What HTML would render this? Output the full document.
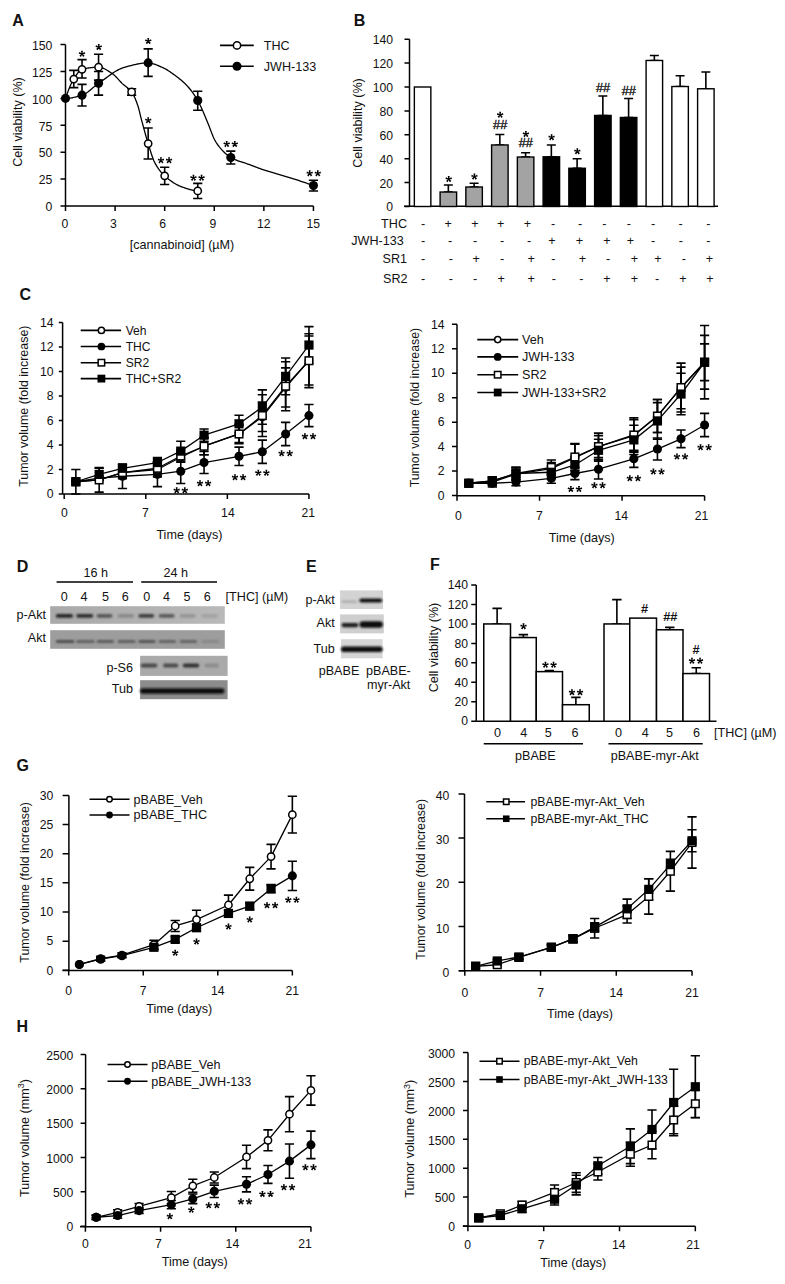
<!DOCTYPE html>
<html><head><meta charset="utf-8"><style>
html,body{margin:0;padding:0;background:#fff;}
svg{display:block;}
text{font-family:"Liberation Sans",sans-serif;fill:#111;}
</style></head><body>
<svg width="785" height="1284" viewBox="0 0 785 1284">
<defs><linearGradient id="g1" x1="0" x2="1" y1="0" y2="0"><stop offset="0" stop-color="#a9a9a9"/><stop offset="1" stop-color="#b9b9b9"/></linearGradient><filter id="bl" x="-20%" y="-150%" width="140%" height="400%"><feGaussianBlur stdDeviation="0.8"/></filter></defs>
<rect width="785" height="1284" fill="#fff"/>
<text x="12.2" y="26.3" font-size="16" text-anchor="start" font-weight="bold">A</text>
<line x1="65.5" y1="206" x2="65.5" y2="44.6" stroke="#000" stroke-width="1.5"/>
<path d="M60.5 206H65.5M60.5 179.1H65.5M60.5 152.2H65.5M60.5 125.3H65.5M60.5 98.4H65.5M60.5 71.5H65.5M60.5 44.6H65.5" stroke="#000" stroke-width="1.5"/>
<text x="52.3" y="211.21" font-size="12.2" text-anchor="end">0</text>
<text x="52.3" y="184.31" font-size="12.2" text-anchor="end">25</text>
<text x="52.3" y="157.41" font-size="12.2" text-anchor="end">50</text>
<text x="52.3" y="130.51" font-size="12.2" text-anchor="end">75</text>
<text x="52.3" y="103.61" font-size="12.2" text-anchor="end">100</text>
<text x="52.3" y="76.71" font-size="12.2" text-anchor="end">125</text>
<text x="52.3" y="49.81" font-size="12.2" text-anchor="end">150</text>
<line x1="65.5" y1="206" x2="313.45" y2="206" stroke="#000" stroke-width="1.5"/>
<path d="M65.5 206V211M115.09 206V211M164.68 206V211M214.27 206V211M263.86 206V211M313.45 206V211" stroke="#000" stroke-width="1.5"/>
<text x="64.8" y="228.01" font-size="12.2" text-anchor="middle">0</text>
<text x="113.5" y="228.01" font-size="12.2" text-anchor="middle">3</text>
<text x="162.6" y="228.01" font-size="12.2" text-anchor="middle">6</text>
<text x="213" y="228.01" font-size="12.2" text-anchor="middle">9</text>
<text x="263.8" y="228.01" font-size="12.2" text-anchor="middle">12</text>
<text x="313.3" y="228.01" font-size="12.2" text-anchor="middle">15</text>
<text x="21.6" y="122" font-size="12.6" text-anchor="middle" transform="rotate(-90 21.6 122)">Cell viability (%)</text>
<text x="182" y="248.75" font-size="12.6" text-anchor="middle">[cannabinoid] (µM)</text>
<polyline points="65.5,98.4 65.94,97.11 66.38,95.85 66.83,94.6 67.27,93.38 67.71,92.18 68.15,91.01 68.6,89.87 69.04,88.75 69.48,87.67 69.92,86.62 70.37,85.6 70.81,84.61 71.25,83.66 71.69,82.75 72.13,81.88 72.58,81.05 73.02,80.26 73.46,79.52 73.9,78.82 74.35,78.12 74.79,77.43 75.23,76.73 75.67,76.05 76.11,75.37 76.56,74.71 77,74.07 77.44,73.45 77.88,72.86 78.33,72.3 78.77,71.77 79.21,71.28 79.65,70.84 80.1,70.44 80.54,70.09 80.98,69.8 81.42,69.57 81.86,69.4 82.31,69.28 82.75,69.17 83.19,69.06 83.63,68.95 84.08,68.85 84.52,68.75 84.96,68.66 85.4,68.57 85.84,68.48 86.29,68.39 86.73,68.31 87.17,68.23 87.61,68.15 88.06,68.07 88.5,68 88.94,67.93 89.38,67.87 89.83,67.8 90.27,67.74 90.71,67.69 91.15,67.63 91.59,67.58 92.04,67.54 92.48,67.49 92.92,67.45 93.36,67.41 93.81,67.38 94.25,67.35 94.69,67.32 95.13,67.29 95.57,67.27 96.02,67.25 96.46,67.23 96.9,67.22 97.34,67.21 97.79,67.2 98.23,67.2 98.67,67.2 99.11,67.21 99.56,67.25 100,67.31 100.44,67.38 100.88,67.47 101.32,67.59 101.77,67.71 102.21,67.86 102.65,68.01 103.09,68.19 103.54,68.37 103.98,68.57 104.42,68.78 104.86,69.01 105.3,69.24 105.75,69.48 106.19,69.73 106.63,69.99 107.07,70.25 107.52,70.53 107.96,70.8 108.4,71.09 108.84,71.37 109.29,71.66 109.73,71.96 110.17,72.25 110.61,72.55 111.05,72.84 111.5,73.13 111.94,73.43 112.38,73.72 112.82,74.02 113.27,74.34 113.71,74.69 114.15,75.06 114.59,75.46 115.03,75.87 115.48,76.3 115.92,76.74 116.36,77.19 116.8,77.66 117.25,78.14 117.69,78.62 118.13,79.1 118.57,79.59 119.02,80.08 119.46,80.57 119.9,81.06 120.34,81.54 120.78,82.01 121.23,82.47 121.67,82.93 122.11,83.37 122.55,83.79 123,84.2 123.44,84.58 123.88,84.95 124.32,85.31 124.76,85.66 125.21,86.01 125.65,86.34 126.09,86.68 126.53,87.02 126.98,87.36 127.42,87.71 127.86,88.07 128.3,88.45 128.75,88.83 129.19,89.24 129.63,89.67 130.07,90.12 130.51,90.6 130.96,91.12 131.4,91.66 131.84,92.24 132.28,92.89 132.73,93.6 133.17,94.38 133.61,95.22 134.05,96.11 134.49,97.06 134.94,98.06 135.38,99.1 135.82,100.19 136.26,101.32 136.71,102.48 137.15,103.68 137.59,104.91 138.03,106.26 138.48,107.78 138.92,109.42 139.36,111.16 139.8,112.96 140.24,114.79 140.69,116.6 141.13,118.36 141.57,120.04 142.01,121.68 142.46,123.33 142.9,124.98 143.34,126.62 143.78,128.27 144.22,129.91 144.67,131.53 145.11,133.15 145.55,134.74 145.99,136.32 146.44,137.87 146.88,139.39 147.32,140.89 147.76,142.35 148.21,143.77 148.65,145.19 149.09,146.62 149.53,148.05 149.97,149.48 150.42,150.9 150.86,152.3 151.3,153.68 151.74,155.02 152.19,156.32 152.63,157.57 153.07,158.76 153.51,159.88 153.95,160.94 154.4,161.91 154.84,162.8 155.28,163.61 155.72,164.39 156.17,165.16 156.61,165.89 157.05,166.61 157.49,167.3 157.94,167.97 158.38,168.62 158.82,169.25 159.26,169.86 159.7,170.45 160.15,171.02 160.59,171.57 161.03,172.1 161.47,172.61 161.92,173.11 162.36,173.59 162.8,174.06 163.24,174.51 163.68,174.94 164.13,175.36 164.57,175.77 165.01,176.17 165.45,176.56 165.9,176.95 166.34,177.33 166.78,177.7 167.22,178.07 167.67,178.44 168.11,178.79 168.55,179.15 168.99,179.5 169.43,179.84 169.88,180.17 170.32,180.5 170.76,180.83 171.2,181.15 171.65,181.46 172.09,181.77 172.53,182.07 172.97,182.36 173.41,182.65 173.86,182.93 174.3,183.2 174.74,183.47 175.18,183.73 175.63,183.99 176.07,184.24 176.51,184.48 176.95,184.72 177.4,184.95 177.84,185.17 178.28,185.38 178.72,185.59 179.16,185.79 179.61,185.99 180.05,186.18 180.49,186.36 180.93,186.53 181.38,186.69 181.82,186.86 182.26,187.02 182.7,187.18 183.14,187.34 183.59,187.5 184.03,187.66 184.47,187.82 184.91,187.97 185.36,188.12 185.8,188.27 186.24,188.42 186.68,188.57 187.13,188.71 187.57,188.85 188.01,188.99 188.45,189.12 188.89,189.25 189.34,189.38 189.78,189.5 190.22,189.62 190.66,189.74 191.11,189.85 191.55,189.96 191.99,190.06 192.43,190.16 192.87,190.26 193.32,190.34 193.76,190.43 194.2,190.51 194.64,190.58 195.09,190.65 195.53,190.71 195.97,190.77 196.41,190.82 196.86,190.87 197.3,190.9 197.74,190.94" fill="none" stroke="#000" stroke-width="1.3" stroke-linejoin="round"/>
<polyline points="65.5,98.4 66.33,98.39 67.16,98.35 67.99,98.3 68.82,98.23 69.65,98.13 70.48,98.02 71.3,97.89 72.13,97.75 72.96,97.59 73.79,97.41 74.62,97.23 75.45,97.03 76.28,96.82 77.11,96.6 77.94,96.38 78.77,96.14 79.6,95.9 80.43,95.66 81.26,95.41 82.09,95.15 82.91,94.86 83.74,94.5 84.57,94.08 85.4,93.61 86.23,93.09 87.06,92.52 87.89,91.92 88.72,91.28 89.55,90.62 90.38,89.94 91.21,89.25 92.04,88.54 92.87,87.83 93.69,87.13 94.52,86.43 95.35,85.75 96.18,85.08 97.01,84.44 97.84,83.83 98.67,83.26 99.5,82.7 100.33,82.12 101.16,81.53 101.99,80.93 102.82,80.33 103.65,79.72 104.48,79.11 105.3,78.49 106.13,77.88 106.96,77.27 107.79,76.65 108.62,76.05 109.45,75.45 110.28,74.85 111.11,74.27 111.94,73.69 112.77,73.13 113.6,72.58 114.43,72.05 115.26,71.54 116.09,71.04 116.91,70.56 117.74,70.11 118.57,69.68 119.4,69.27 120.23,68.89 121.06,68.54 121.89,68.22 122.72,67.93 123.55,67.68 124.38,67.43 125.21,67.18 126.04,66.94 126.87,66.7 127.69,66.46 128.52,66.23 129.35,65.99 130.18,65.77 131.01,65.54 131.84,65.33 132.67,65.12 133.5,64.91 134.33,64.71 135.16,64.52 135.99,64.34 136.82,64.16 137.65,64 138.48,63.84 139.3,63.7 140.13,63.56 140.96,63.44 141.79,63.32 142.62,63.22 143.45,63.13 144.28,63.06 145.11,63 145.94,62.95 146.77,62.91 147.6,62.9 148.43,62.89 149.26,62.94 150.08,63.02 150.91,63.16 151.74,63.33 152.57,63.53 153.4,63.77 154.23,64.04 155.06,64.33 155.89,64.65 156.72,64.98 157.55,65.33 158.38,65.68 159.21,66.05 160.04,66.42 160.87,66.79 161.69,67.16 162.52,67.52 163.35,67.89 164.18,68.29 165.01,68.72 165.84,69.18 166.67,69.66 167.5,70.16 168.33,70.69 169.16,71.23 169.99,71.78 170.82,72.35 171.65,72.93 172.48,73.52 173.3,74.11 174.13,74.71 174.96,75.32 175.79,75.93 176.62,76.54 177.45,77.17 178.28,77.82 179.11,78.47 179.94,79.14 180.77,79.83 181.6,80.54 182.43,81.26 183.26,82.01 184.08,82.78 184.91,83.57 185.74,84.39 186.57,85.24 187.4,86.11 188.23,87.02 189.06,87.96 189.89,88.96 190.72,90 191.55,91.08 192.38,92.21 193.21,93.38 194.04,94.59 194.87,95.85 195.69,97.16 196.52,98.5 197.35,99.89 198.18,101.33 199.01,102.88 199.84,104.52 200.67,106.25 201.5,108.05 202.33,109.92 203.16,111.83 203.99,113.78 204.82,115.75 205.65,117.73 206.47,119.71 207.3,121.67 208.13,123.64 208.96,125.74 209.79,127.93 210.62,130.16 211.45,132.39 212.28,134.54 213.11,136.58 213.94,138.44 214.77,140.07 215.6,141.49 216.43,142.83 217.26,144.08 218.08,145.26 218.91,146.38 219.74,147.43 220.57,148.42 221.4,149.37 222.23,150.27 223.06,151.13 223.89,151.97 224.72,152.79 225.55,153.58 226.38,154.34 227.21,155.05 228.04,155.73 228.87,156.35 229.69,156.92 230.52,157.42 231.35,157.88 232.18,158.31 233.01,158.71 233.84,159.1 234.67,159.46 235.5,159.81 236.33,160.14 237.16,160.46 237.99,160.77 238.82,161.07 239.65,161.35 240.47,161.63 241.3,161.91 242.13,162.17 242.96,162.44 243.79,162.7 244.62,162.97 245.45,163.23 246.28,163.5 247.11,163.78 247.94,164.06 248.77,164.35 249.6,164.65 250.43,164.96 251.26,165.27 252.08,165.59 252.91,165.9 253.74,166.22 254.57,166.54 255.4,166.86 256.23,167.18 257.06,167.49 257.89,167.81 258.72,168.12 259.55,168.43 260.38,168.73 261.21,169.03 262.04,169.33 262.86,169.62 263.69,169.9 264.52,170.17 265.35,170.45 266.18,170.71 267.01,170.97 267.84,171.23 268.67,171.49 269.5,171.74 270.33,171.99 271.16,172.24 271.99,172.48 272.82,172.72 273.65,172.96 274.47,173.2 275.3,173.44 276.13,173.67 276.96,173.91 277.79,174.14 278.62,174.38 279.45,174.61 280.28,174.85 281.11,175.08 281.94,175.32 282.77,175.56 283.6,175.79 284.43,176.03 285.26,176.28 286.08,176.52 286.91,176.77 287.74,177.02 288.57,177.27 289.4,177.53 290.23,177.78 291.06,178.05 291.89,178.31 292.72,178.57 293.55,178.84 294.38,179.11 295.21,179.37 296.04,179.64 296.86,179.91 297.69,180.19 298.52,180.46 299.35,180.73 300.18,181.01 301.01,181.28 301.84,181.56 302.67,181.84 303.5,182.12 304.33,182.4 305.16,182.68 305.99,182.97 306.82,183.25 307.65,183.53 308.47,183.82 309.3,184.11 310.13,184.39 310.96,184.68 311.79,184.97 312.62,185.26 313.45,185.56" fill="none" stroke="#000" stroke-width="1.3" stroke-linejoin="round"/>
<path d="M73.77 70.42V87.64M69.17 70.42H78.36M69.17 87.64H78.36" stroke="#000" stroke-width="1.6" fill="none"/>
<path d="M82.03 59.66V77.96M77.43 59.66H86.63M77.43 77.96H86.63" stroke="#000" stroke-width="1.6" fill="none"/>
<path d="M98.56 54.28V80.11M93.96 54.28H103.16M93.96 80.11H103.16" stroke="#000" stroke-width="1.6" fill="none"/>
<path d="M131.62 88.72V95.17M127.02 88.72H136.22M127.02 95.17H136.22" stroke="#000" stroke-width="1.6" fill="none"/>
<path d="M148.15 127.99V158.98M143.55 127.99H152.75M143.55 158.98H152.75" stroke="#000" stroke-width="1.6" fill="none"/>
<path d="M164.68 167.26V184.48M160.08 167.26H169.28M160.08 184.48H169.28" stroke="#000" stroke-width="1.6" fill="none"/>
<path d="M197.74 183.4V198.47M193.14 183.4H202.34M193.14 198.47H202.34" stroke="#000" stroke-width="1.6" fill="none"/>
<path d="M82.03 84.41V105.93M77.43 84.41H86.63M77.43 105.93H86.63" stroke="#000" stroke-width="1.6" fill="none"/>
<path d="M98.56 71.5V95.17M93.96 71.5H103.16M93.96 95.17H103.16" stroke="#000" stroke-width="1.6" fill="none"/>
<path d="M148.15 48.9V76.34M143.55 48.9H152.75M143.55 76.34H152.75" stroke="#000" stroke-width="1.6" fill="none"/>
<path d="M197.74 91.3V110.24M193.14 91.3H202.34M193.14 110.24H202.34" stroke="#000" stroke-width="1.6" fill="none"/>
<path d="M230.8 151.12V164.04M226.2 151.12H235.4M226.2 164.04H235.4" stroke="#000" stroke-width="1.6" fill="none"/>
<path d="M313.45 180.18V190.94M308.85 180.18H318.05M308.85 190.94H318.05" stroke="#000" stroke-width="1.6" fill="none"/>
<circle cx="65.5" cy="98.4" r="4.55" fill="#000"/>
<circle cx="82.03" cy="95.17" r="4.55" fill="#000"/>
<circle cx="98.56" cy="83.34" r="4.55" fill="#000"/>
<circle cx="148.15" cy="62.89" r="4.55" fill="#000"/>
<circle cx="197.74" cy="100.55" r="4.55" fill="#000"/>
<circle cx="230.8" cy="157.58" r="4.55" fill="#000"/>
<circle cx="313.45" cy="185.56" r="4.55" fill="#000"/>
<circle cx="73.77" cy="79.03" r="3.65" fill="#fff" stroke="#000" stroke-width="1.5"/>
<circle cx="82.03" cy="69.35" r="3.65" fill="#fff" stroke="#000" stroke-width="1.5"/>
<circle cx="98.56" cy="67.2" r="3.65" fill="#fff" stroke="#000" stroke-width="1.5"/>
<circle cx="131.62" cy="91.94" r="3.65" fill="#fff" stroke="#000" stroke-width="1.5"/>
<circle cx="148.15" cy="143.59" r="3.65" fill="#fff" stroke="#000" stroke-width="1.5"/>
<circle cx="164.68" cy="175.87" r="3.65" fill="#fff" stroke="#000" stroke-width="1.5"/>
<circle cx="197.74" cy="190.94" r="3.65" fill="#fff" stroke="#000" stroke-width="1.5"/>
<path d="M82.45 53.85L82.95 50.7L81.05 50.7L81.55 53.85ZM82.14 54.28L85.29 53.78L84.7 51.97L81.86 53.42ZM81.64 54.11L83.08 56.96L84.62 55.84L82.36 53.59ZM81.64 53.59L79.38 55.84L80.92 56.96L82.36 54.11ZM82.14 53.42L79.3 51.97L78.71 53.78L81.86 54.28Z" fill="#000"/>
<path d="M99.2 47.1L99.7 43.95L97.8 43.95L98.3 47.1ZM98.89 47.53L102.04 47.03L101.45 45.22L98.61 46.67ZM98.39 47.36L99.83 50.21L101.37 49.09L99.11 46.84ZM98.39 46.84L96.13 49.09L97.67 50.21L99.11 47.36ZM98.89 46.67L96.05 45.22L95.46 47.03L98.61 47.53Z" fill="#000"/>
<path d="M148.7 41.1L149.2 37.95L147.3 37.95L147.8 41.1ZM148.39 41.53L151.54 41.03L150.95 39.22L148.11 40.67ZM147.89 41.36L149.33 44.21L150.87 43.09L148.61 40.84ZM147.89 40.84L145.63 43.09L147.17 44.21L148.61 41.36ZM148.39 40.67L145.55 39.22L144.96 41.03L148.11 41.53Z" fill="#000"/>
<path d="M148.7 120.35L149.2 117.2L147.3 117.2L147.8 120.35ZM148.39 120.78L151.54 120.28L150.95 118.47L148.11 119.92ZM147.89 120.61L149.33 123.46L150.87 122.34L148.61 120.09ZM147.89 120.09L145.63 122.34L147.17 123.46L148.61 120.61ZM148.39 119.92L145.55 118.47L144.96 120.28L148.11 120.78Z" fill="#000"/>
<path d="M161.4 160.35L161.9 157.2L160 157.2L160.5 160.35ZM161.09 160.78L164.24 160.28L163.65 158.47L160.81 159.92ZM160.59 160.61L162.03 163.46L163.57 162.34L161.31 160.09ZM160.59 160.09L158.33 162.34L159.87 163.46L161.31 160.61ZM161.09 159.92L158.25 158.47L157.66 160.28L160.81 160.78ZM169.5 160.35L170 157.2L168.1 157.2L168.6 160.35ZM169.19 160.78L172.34 160.28L171.75 158.47L168.91 159.92ZM168.69 160.61L170.13 163.46L171.67 162.34L169.41 160.09ZM168.69 160.09L166.43 162.34L167.97 163.46L169.41 160.61ZM169.19 159.92L166.35 158.47L165.76 160.28L168.91 160.78Z" fill="#000"/>
<path d="M193.9 177.85L194.4 174.7L192.5 174.7L193 177.85ZM193.59 178.28L196.74 177.78L196.15 175.97L193.31 177.42ZM193.09 178.11L194.53 180.96L196.07 179.84L193.81 177.59ZM193.09 177.59L190.83 179.84L192.37 180.96L193.81 178.11ZM193.59 177.42L190.75 175.97L190.16 177.78L193.31 178.28ZM202 177.85L202.5 174.7L200.6 174.7L201.1 177.85ZM201.69 178.28L204.84 177.78L204.25 175.97L201.41 177.42ZM201.19 178.11L202.63 180.96L204.17 179.84L201.91 177.59ZM201.19 177.59L198.93 179.84L200.47 180.96L201.91 178.11ZM201.69 177.42L198.85 175.97L198.26 177.78L201.41 178.28Z" fill="#000"/>
<path d="M227.15 144.1L227.65 140.95L225.75 140.95L226.25 144.1ZM226.84 144.53L229.99 144.03L229.4 142.22L226.56 143.67ZM226.34 144.36L227.78 147.21L229.32 146.09L227.06 143.84ZM226.34 143.84L224.08 146.09L225.62 147.21L227.06 144.36ZM226.84 143.67L224 142.22L223.41 144.03L226.56 144.53ZM235.25 144.1L235.75 140.95L233.85 140.95L234.35 144.1ZM234.94 144.53L238.09 144.03L237.5 142.22L234.66 143.67ZM234.44 144.36L235.88 147.21L237.42 146.09L235.16 143.84ZM234.44 143.84L232.18 146.09L233.72 147.21L235.16 144.36ZM234.94 143.67L232.1 142.22L231.51 144.03L234.66 144.53Z" fill="#000"/>
<path d="M310.15 173.35L310.65 170.2L308.75 170.2L309.25 173.35ZM309.84 173.78L312.99 173.28L312.4 171.47L309.56 172.92ZM309.34 173.61L310.78 176.46L312.32 175.34L310.06 173.09ZM309.34 173.09L307.08 175.34L308.62 176.46L310.06 173.61ZM309.84 172.92L307 171.47L306.41 173.28L309.56 173.78ZM318.25 173.35L318.75 170.2L316.85 170.2L317.35 173.35ZM317.94 173.78L321.09 173.28L320.5 171.47L317.66 172.92ZM317.44 173.61L318.88 176.46L320.42 175.34L318.16 173.09ZM317.44 173.09L315.18 175.34L316.72 176.46L318.16 173.61ZM317.94 172.92L315.1 171.47L314.51 173.28L317.66 173.78Z" fill="#000"/>
<line x1="220" y1="45.4" x2="253.75" y2="45.4" stroke="#000" stroke-width="1.6"/>
<circle cx="237" cy="45.4" r="3.65" fill="#fff" stroke="#000" stroke-width="1.5"/>
<text x="263.75" y="49.75" font-size="12.6" text-anchor="start">THC</text>
<line x1="220" y1="66.3" x2="253.75" y2="66.3" stroke="#000" stroke-width="1.6"/>
<circle cx="237" cy="66.3" r="4.55" fill="#000"/>
<text x="263.75" y="70.65" font-size="12.6" text-anchor="start">JWH-133</text>
<text x="353.75" y="26.3" font-size="16" text-anchor="start" font-weight="bold">B</text>
<line x1="409.5" y1="206.5" x2="409.5" y2="39.2" stroke="#000" stroke-width="1.5"/>
<path d="M404.5 206.5H409.5M404.5 182.6H409.5M404.5 158.7H409.5M404.5 134.8H409.5M404.5 110.9H409.5M404.5 87H409.5M404.5 63.1H409.5M404.5 39.2H409.5" stroke="#000" stroke-width="1.5"/>
<text x="393" y="211.41" font-size="12.2" text-anchor="end">0</text>
<text x="393" y="187.51" font-size="12.2" text-anchor="end">20</text>
<text x="393" y="163.61" font-size="12.2" text-anchor="end">40</text>
<text x="393" y="139.71" font-size="12.2" text-anchor="end">60</text>
<text x="393" y="115.81" font-size="12.2" text-anchor="end">80</text>
<text x="393" y="91.91" font-size="12.2" text-anchor="end">100</text>
<text x="393" y="68.01" font-size="12.2" text-anchor="end">120</text>
<text x="393" y="44.11" font-size="12.2" text-anchor="end">140</text>
<line x1="404" y1="206.25" x2="718" y2="206.25" stroke="#000" stroke-width="1.5"/>
<text x="362.3" y="123" font-size="12.6" text-anchor="middle" transform="rotate(-90 362.3 123)">Cell viability (%)</text>
<rect x="414.35" y="87" width="16.5" height="119.5" fill="#fff" stroke="#000" stroke-width="1.4"/>
<path d="M448.35 184.99V192.04M443.85 184.99H452.85M443.85 192.04H452.85" stroke="#000" stroke-width="1.6" fill="none"/>
<rect x="440.1" y="192.04" width="16.5" height="14.46" fill="#a3a3a3" stroke="#000" stroke-width="1.4"/>
<path d="M474.1 183.2V187.02M469.6 183.2H478.6M469.6 187.02H478.6" stroke="#000" stroke-width="1.6" fill="none"/>
<rect x="465.85" y="187.02" width="16.5" height="19.48" fill="#a3a3a3" stroke="#000" stroke-width="1.4"/>
<path d="M499.85 134.44V144.96M495.35 134.44H504.35M495.35 144.96H504.35" stroke="#000" stroke-width="1.6" fill="none"/>
<rect x="491.6" y="144.96" width="16.5" height="61.54" fill="#a3a3a3" stroke="#000" stroke-width="1.4"/>
<path d="M525.6 152.72V157.03M521.1 152.72H530.1M521.1 157.03H530.1" stroke="#000" stroke-width="1.6" fill="none"/>
<rect x="517.35" y="157.03" width="16.5" height="49.47" fill="#a3a3a3" stroke="#000" stroke-width="1.4"/>
<path d="M551.35 144.96V156.79M546.85 144.96H555.85M546.85 156.79H555.85" stroke="#000" stroke-width="1.6" fill="none"/>
<rect x="543.1" y="156.79" width="16.5" height="49.71" fill="#000" stroke="#000" stroke-width="1.4"/>
<path d="M577.1 158.7V168.26M572.6 158.7H581.6M572.6 168.26H581.6" stroke="#000" stroke-width="1.6" fill="none"/>
<rect x="568.85" y="168.26" width="16.5" height="38.24" fill="#000" stroke="#000" stroke-width="1.4"/>
<path d="M602.85 95.96V115.44M598.35 95.96H607.35M598.35 115.44H607.35" stroke="#000" stroke-width="1.6" fill="none"/>
<rect x="594.6" y="115.44" width="16.5" height="91.06" fill="#000" stroke="#000" stroke-width="1.4"/>
<path d="M628.6 98.47V117.47M624.1 98.47H633.1M624.1 117.47H633.1" stroke="#000" stroke-width="1.6" fill="none"/>
<rect x="620.35" y="117.47" width="16.5" height="89.03" fill="#000" stroke="#000" stroke-width="1.4"/>
<path d="M654.35 55.45V60.47M649.85 55.45H658.85M649.85 60.47H658.85" stroke="#000" stroke-width="1.6" fill="none"/>
<rect x="646.1" y="60.47" width="16.5" height="146.03" fill="#fff" stroke="#000" stroke-width="1.4"/>
<path d="M680.1 75.77V86.52M675.6 75.77H684.6M675.6 86.52H684.6" stroke="#000" stroke-width="1.6" fill="none"/>
<rect x="671.85" y="86.52" width="16.5" height="119.98" fill="#fff" stroke="#000" stroke-width="1.4"/>
<path d="M705.85 72.06V88.79M701.35 72.06H710.35M701.35 88.79H710.35" stroke="#000" stroke-width="1.6" fill="none"/>
<rect x="697.6" y="88.79" width="16.5" height="117.71" fill="#fff" stroke="#000" stroke-width="1.4"/>
<path d="M449.17 179.1L449.67 175.95L447.77 175.95L448.27 179.1ZM448.86 179.53L452.01 179.03L451.42 177.22L448.58 178.67ZM448.36 179.36L449.8 182.21L451.34 181.09L449.08 178.84ZM448.36 178.84L446.1 181.09L447.64 182.21L449.08 179.36ZM448.86 178.67L446.02 177.22L445.43 179.03L448.58 179.53Z" fill="#000"/>
<path d="M474.89 176.6L475.39 173.45L473.49 173.45L473.99 176.6ZM474.58 177.03L477.73 176.53L477.14 174.72L474.3 176.17ZM474.08 176.86L475.52 179.71L477.06 178.59L474.8 176.34ZM474.08 176.34L471.82 178.59L473.36 179.71L474.8 176.86ZM474.58 176.17L471.74 174.72L471.15 176.53L474.3 177.03Z" fill="#000"/>
<path d="M500.61 114.85L501.11 111.7L499.21 111.7L499.71 114.85ZM500.3 115.28L503.45 114.78L502.86 112.97L500.02 114.42ZM499.8 115.11L501.24 117.96L502.78 116.84L500.52 114.59ZM499.8 114.59L497.54 116.84L499.08 117.96L500.52 115.11ZM500.3 114.42L497.46 112.97L496.87 114.78L500.02 115.28Z" fill="#000"/>
<text x="500.16" y="128.72" font-size="12.8" text-anchor="middle" font-family="Liberation Serif" stroke="#111" stroke-width="0.35">##</text>
<path d="M526.33 134.1L526.83 130.95L524.93 130.95L525.43 134.1ZM526.02 134.53L529.17 134.03L528.58 132.22L525.74 133.67ZM525.52 134.36L526.96 137.21L528.5 136.09L526.24 133.84ZM525.52 133.84L523.26 136.09L524.8 137.21L526.24 134.36ZM526.02 133.67L523.18 132.22L522.59 134.03L525.74 134.53Z" fill="#000"/>
<text x="525.88" y="147.47" font-size="12.8" text-anchor="middle" font-family="Liberation Serif" stroke="#111" stroke-width="0.35">##</text>
<path d="M552.05 137.35L552.55 134.2L550.65 134.2L551.15 137.35ZM551.74 137.78L554.89 137.28L554.3 135.47L551.46 136.92ZM551.24 137.61L552.68 140.46L554.22 139.34L551.96 137.09ZM551.24 137.09L548.98 139.34L550.52 140.46L551.96 137.61ZM551.74 136.92L548.9 135.47L548.31 137.28L551.46 137.78Z" fill="#000"/>
<path d="M577.77 151.35L578.27 148.2L576.37 148.2L576.87 151.35ZM577.46 151.78L580.61 151.28L580.02 149.47L577.18 150.92ZM576.96 151.61L578.4 154.46L579.94 153.34L577.68 151.09ZM576.96 151.09L574.7 153.34L576.24 154.46L577.68 151.61ZM577.46 150.92L574.62 149.47L574.03 151.28L577.18 151.78Z" fill="#000"/>
<text x="603.04" y="91.72" font-size="12.8" text-anchor="middle" font-family="Liberation Serif" stroke="#111" stroke-width="0.35">##</text>
<text x="628.76" y="94.72" font-size="12.8" text-anchor="middle" font-family="Liberation Serif" stroke="#111" stroke-width="0.35">##</text>
<text x="407" y="228.1" font-size="12.6" text-anchor="end">THC</text>
<text x="423" y="228.1" font-size="12.6" text-anchor="middle">-</text>
<text x="448.25" y="228.1" font-size="12.6" text-anchor="middle">+</text>
<text x="475" y="228.1" font-size="12.6" text-anchor="middle">+</text>
<text x="500.75" y="228.1" font-size="12.6" text-anchor="middle">+</text>
<text x="527.5" y="228.1" font-size="12.6" text-anchor="middle">+</text>
<text x="553" y="228.1" font-size="12.6" text-anchor="middle">-</text>
<text x="580" y="228.1" font-size="12.6" text-anchor="middle">-</text>
<text x="604.25" y="228.1" font-size="12.6" text-anchor="middle">-</text>
<text x="628.75" y="228.1" font-size="12.6" text-anchor="middle">-</text>
<text x="653" y="228.1" font-size="12.6" text-anchor="middle">-</text>
<text x="680.5" y="228.1" font-size="12.6" text-anchor="middle">-</text>
<text x="708.25" y="228.1" font-size="12.6" text-anchor="middle">-</text>
<text x="403.75" y="244.85" font-size="12.6" text-anchor="end">JWH-133</text>
<text x="423" y="244.85" font-size="12.6" text-anchor="middle">-</text>
<text x="450" y="244.85" font-size="12.6" text-anchor="middle">-</text>
<text x="475" y="244.85" font-size="12.6" text-anchor="middle">-</text>
<text x="502" y="244.85" font-size="12.6" text-anchor="middle">-</text>
<text x="529" y="244.85" font-size="12.6" text-anchor="middle">-</text>
<text x="552" y="244.85" font-size="12.6" text-anchor="middle">+</text>
<text x="579.5" y="244.85" font-size="12.6" text-anchor="middle">+</text>
<text x="607" y="244.85" font-size="12.6" text-anchor="middle">+</text>
<text x="630.5" y="244.85" font-size="12.6" text-anchor="middle">+</text>
<text x="653" y="244.85" font-size="12.6" text-anchor="middle">-</text>
<text x="680.75" y="244.85" font-size="12.6" text-anchor="middle">-</text>
<text x="708.25" y="244.85" font-size="12.6" text-anchor="middle">-</text>
<text x="407" y="263.1" font-size="12.6" text-anchor="end">SR1</text>
<text x="423" y="263.1" font-size="12.6" text-anchor="middle">-</text>
<text x="450.75" y="263.1" font-size="12.6" text-anchor="middle">-</text>
<text x="476.25" y="263.1" font-size="12.6" text-anchor="middle">+</text>
<text x="502" y="263.1" font-size="12.6" text-anchor="middle">-</text>
<text x="531.25" y="263.1" font-size="12.6" text-anchor="middle">+</text>
<text x="553.25" y="263.1" font-size="12.6" text-anchor="middle">-</text>
<text x="582.5" y="263.1" font-size="12.6" text-anchor="middle">+</text>
<text x="608" y="263.1" font-size="12.6" text-anchor="middle">-</text>
<text x="634.5" y="263.1" font-size="12.6" text-anchor="middle">+</text>
<text x="658" y="263.1" font-size="12.6" text-anchor="middle">+</text>
<text x="683.75" y="263.1" font-size="12.6" text-anchor="middle">-</text>
<text x="709.5" y="263.1" font-size="12.6" text-anchor="middle">+</text>
<text x="407.5" y="283.1" font-size="12.6" text-anchor="end">SR2</text>
<text x="423" y="283.1" font-size="12.6" text-anchor="middle">-</text>
<text x="450.75" y="283.1" font-size="12.6" text-anchor="middle">-</text>
<text x="475" y="283.1" font-size="12.6" text-anchor="middle">-</text>
<text x="501.25" y="283.1" font-size="12.6" text-anchor="middle">+</text>
<text x="531.25" y="283.1" font-size="12.6" text-anchor="middle">+</text>
<text x="553.75" y="283.1" font-size="12.6" text-anchor="middle">-</text>
<text x="581.25" y="283.1" font-size="12.6" text-anchor="middle">-</text>
<text x="607" y="283.1" font-size="12.6" text-anchor="middle">+</text>
<text x="634.5" y="283.1" font-size="12.6" text-anchor="middle">+</text>
<text x="657" y="283.1" font-size="12.6" text-anchor="middle">-</text>
<text x="683" y="283.1" font-size="12.6" text-anchor="middle">+</text>
<text x="710" y="283.1" font-size="12.6" text-anchor="middle">+</text>
<text x="19.5" y="299.8" font-size="16" text-anchor="start" font-weight="bold">C</text>
<line x1="62.6" y1="494" x2="62.6" y2="322.5" stroke="#000" stroke-width="1.5"/>
<path d="M58.8 494H62.6M58.8 469.5H62.6M58.8 445H62.6M58.8 420.5H62.6M58.8 396H62.6M58.8 371.5H62.6M58.8 347H62.6M58.8 322.5H62.6" stroke="#000" stroke-width="1.5"/>
<text x="53.6" y="498.21" font-size="12.2" text-anchor="end">0</text>
<text x="53.6" y="473.71" font-size="12.2" text-anchor="end">2</text>
<text x="53.6" y="449.21" font-size="12.2" text-anchor="end">4</text>
<text x="53.6" y="424.71" font-size="12.2" text-anchor="end">6</text>
<text x="53.6" y="400.21" font-size="12.2" text-anchor="end">8</text>
<text x="53.6" y="375.71" font-size="12.2" text-anchor="end">10</text>
<text x="53.6" y="351.21" font-size="12.2" text-anchor="end">12</text>
<text x="53.6" y="326.71" font-size="12.2" text-anchor="end">14</text>
<line x1="62.4" y1="494" x2="308.95" y2="494" stroke="#000" stroke-width="1.5"/>
<path d="M64.2 494V499M145.78 494V499M227.37 494V499M308.95 494V499" stroke="#000" stroke-width="1.5"/>
<text x="64.5" y="516.91" font-size="12.2" text-anchor="middle">0</text>
<text x="145.5" y="516.91" font-size="12.2" text-anchor="middle">7</text>
<text x="227.9" y="516.91" font-size="12.2" text-anchor="middle">14</text>
<text x="308.2" y="516.91" font-size="12.2" text-anchor="middle">21</text>
<text x="28" y="406.2" font-size="12.45" text-anchor="middle" transform="rotate(-90 28 406.2)">Tumor volume (fold increase)</text>
<text x="189.4" y="539.05" font-size="12.6" text-anchor="middle">Time (days)</text>
<polyline points="75.86,481.75 99.16,478.07 122.47,476.24 157.44,474.4 180.75,471.21 204.06,462.52 239.02,456.27 262.33,451.74 285.64,433.98 308.95,415.6" fill="none" stroke="#000" stroke-width="1.3" stroke-linejoin="round"/>
<polyline points="75.86,481.75 99.16,479.91 122.47,472.56 157.44,469.5 180.75,457.25 204.06,446.23 239.02,433.98 262.33,416.82 285.64,387.43 308.95,360.48" fill="none" stroke="#000" stroke-width="1.3" stroke-linejoin="round"/>
<polyline points="75.86,481.75 99.16,479.91 122.47,472.56 157.44,468.27 180.75,456.02 204.06,446.23 239.02,433.98 262.33,415.6 285.64,386.2 308.95,360.72" fill="none" stroke="#000" stroke-width="1.3" stroke-linejoin="round"/>
<polyline points="75.86,481.75 99.16,474.4 122.47,468.27 157.44,462.52 180.75,451.12 204.06,435.2 239.02,423.81 262.33,407.02 285.64,376.4 308.95,345.04" fill="none" stroke="#000" stroke-width="1.3" stroke-linejoin="round"/>
<path d="M75.86 469.5V494M71.26 469.5H80.45M71.26 494H80.45" stroke="#000" stroke-width="1.6" fill="none"/>
<path d="M122.47 463.99V488.49M117.88 463.99H127.07M117.88 488.49H127.07" stroke="#000" stroke-width="1.6" fill="none"/>
<path d="M157.44 462.15V486.65M152.84 462.15H162.04M152.84 486.65H162.04" stroke="#000" stroke-width="1.6" fill="none"/>
<path d="M180.75 458.96V483.46M176.15 458.96H185.35M176.15 483.46H185.35" stroke="#000" stroke-width="1.6" fill="none"/>
<path d="M204.06 451.49V473.54M199.46 451.49H208.66M199.46 473.54H208.66" stroke="#000" stroke-width="1.6" fill="none"/>
<path d="M239.02 447.08V465.46M234.42 447.08H243.62M234.42 465.46H243.62" stroke="#000" stroke-width="1.6" fill="none"/>
<path d="M262.33 440.1V463.38M257.73 440.1H266.94M257.73 463.38H266.94" stroke="#000" stroke-width="1.6" fill="none"/>
<path d="M285.64 422.34V445.61M281.04 422.34H290.25M281.04 445.61H290.25" stroke="#000" stroke-width="1.6" fill="none"/>
<path d="M308.95 404.57V426.62M304.35 404.57H313.56M304.35 426.62H313.56" stroke="#000" stroke-width="1.6" fill="none"/>
<path d="M99.16 467.66V492.16M94.56 467.66H103.76M94.56 492.16H103.76" stroke="#000" stroke-width="1.6" fill="none"/>
<path d="M122.47 467.66V477.46M117.88 467.66H127.07M117.88 477.46H127.07" stroke="#000" stroke-width="1.6" fill="none"/>
<path d="M157.44 462.15V476.85M152.84 462.15H162.04M152.84 476.85H162.04" stroke="#000" stroke-width="1.6" fill="none"/>
<path d="M204.06 437.65V454.8M199.46 437.65H208.66M199.46 454.8H208.66" stroke="#000" stroke-width="1.6" fill="none"/>
<path d="M239.02 424.18V443.77M234.42 424.18H243.62M234.42 443.77H243.62" stroke="#000" stroke-width="1.6" fill="none"/>
<path d="M262.33 402.12V431.52M257.73 402.12H266.94M257.73 431.52H266.94" stroke="#000" stroke-width="1.6" fill="none"/>
<path d="M285.64 367.83V407.02M281.04 367.83H290.25M281.04 407.02H290.25" stroke="#000" stroke-width="1.6" fill="none"/>
<path d="M308.95 335.98V384.98M304.35 335.98H313.56M304.35 384.98H313.56" stroke="#000" stroke-width="1.6" fill="none"/>
<path d="M122.47 466.44V478.69M117.88 466.44H127.07M117.88 478.69H127.07" stroke="#000" stroke-width="1.6" fill="none"/>
<path d="M157.44 462.15V474.4M152.84 462.15H162.04M152.84 474.4H162.04" stroke="#000" stroke-width="1.6" fill="none"/>
<path d="M180.75 449.9V462.15M176.15 449.9H185.35M176.15 462.15H185.35" stroke="#000" stroke-width="1.6" fill="none"/>
<path d="M204.06 437.65V454.8M199.46 437.65H208.66M199.46 454.8H208.66" stroke="#000" stroke-width="1.6" fill="none"/>
<path d="M239.02 425.4V442.55M234.42 425.4H243.62M234.42 442.55H243.62" stroke="#000" stroke-width="1.6" fill="none"/>
<path d="M262.33 394.77V436.43M257.73 394.77H266.94M257.73 436.43H266.94" stroke="#000" stroke-width="1.6" fill="none"/>
<path d="M285.64 361.7V410.7M281.04 361.7H290.25M281.04 410.7H290.25" stroke="#000" stroke-width="1.6" fill="none"/>
<path d="M308.95 333.77V387.67M304.35 333.77H313.56M304.35 387.67H313.56" stroke="#000" stroke-width="1.6" fill="none"/>
<path d="M99.16 468.27V480.52M94.56 468.27H103.76M94.56 480.52H103.76" stroke="#000" stroke-width="1.6" fill="none"/>
<path d="M122.47 464.6V471.95M117.88 464.6H127.07M117.88 471.95H127.07" stroke="#000" stroke-width="1.6" fill="none"/>
<path d="M157.44 457.62V467.42M152.84 457.62H162.04M152.84 467.42H162.04" stroke="#000" stroke-width="1.6" fill="none"/>
<path d="M180.75 441.32V460.93M176.15 441.32H185.35M176.15 460.93H185.35" stroke="#000" stroke-width="1.6" fill="none"/>
<path d="M204.06 429.07V441.32M199.46 429.07H208.66M199.46 441.32H208.66" stroke="#000" stroke-width="1.6" fill="none"/>
<path d="M239.02 415.23V432.38M234.42 415.23H243.62M234.42 432.38H243.62" stroke="#000" stroke-width="1.6" fill="none"/>
<path d="M262.33 389.88V424.18M257.73 389.88H266.94M257.73 424.18H266.94" stroke="#000" stroke-width="1.6" fill="none"/>
<path d="M285.64 358.02V394.77M281.04 358.02H290.25M281.04 394.77H290.25" stroke="#000" stroke-width="1.6" fill="none"/>
<path d="M308.95 326.66V363.41M304.35 326.66H313.56M304.35 363.41H313.56" stroke="#000" stroke-width="1.6" fill="none"/>
<circle cx="75.86" cy="481.75" r="4.55" fill="#000"/>
<circle cx="99.16" cy="478.07" r="4.55" fill="#000"/>
<circle cx="122.47" cy="476.24" r="4.55" fill="#000"/>
<circle cx="157.44" cy="474.4" r="4.55" fill="#000"/>
<circle cx="180.75" cy="471.21" r="4.55" fill="#000"/>
<circle cx="204.06" cy="462.52" r="4.55" fill="#000"/>
<circle cx="239.02" cy="456.27" r="4.55" fill="#000"/>
<circle cx="262.33" cy="451.74" r="4.55" fill="#000"/>
<circle cx="285.64" cy="433.98" r="4.55" fill="#000"/>
<circle cx="308.95" cy="415.6" r="4.55" fill="#000"/>
<circle cx="75.86" cy="481.75" r="3.65" fill="#fff" stroke="#000" stroke-width="1.5"/>
<circle cx="99.16" cy="479.91" r="3.65" fill="#fff" stroke="#000" stroke-width="1.5"/>
<circle cx="122.47" cy="472.56" r="3.65" fill="#fff" stroke="#000" stroke-width="1.5"/>
<circle cx="157.44" cy="469.5" r="3.65" fill="#fff" stroke="#000" stroke-width="1.5"/>
<circle cx="180.75" cy="457.25" r="3.65" fill="#fff" stroke="#000" stroke-width="1.5"/>
<circle cx="204.06" cy="446.23" r="3.65" fill="#fff" stroke="#000" stroke-width="1.5"/>
<circle cx="239.02" cy="433.98" r="3.65" fill="#fff" stroke="#000" stroke-width="1.5"/>
<circle cx="262.33" cy="416.82" r="3.65" fill="#fff" stroke="#000" stroke-width="1.5"/>
<circle cx="285.64" cy="387.43" r="3.65" fill="#fff" stroke="#000" stroke-width="1.5"/>
<circle cx="308.95" cy="360.48" r="3.65" fill="#fff" stroke="#000" stroke-width="1.5"/>
<rect x="72.06" y="477.95" width="7.6" height="7.6" fill="#fff" stroke="#000" stroke-width="1.5"/>
<rect x="95.36" y="476.11" width="7.6" height="7.6" fill="#fff" stroke="#000" stroke-width="1.5"/>
<rect x="118.67" y="468.76" width="7.6" height="7.6" fill="#fff" stroke="#000" stroke-width="1.5"/>
<rect x="153.64" y="464.47" width="7.6" height="7.6" fill="#fff" stroke="#000" stroke-width="1.5"/>
<rect x="176.95" y="452.22" width="7.6" height="7.6" fill="#fff" stroke="#000" stroke-width="1.5"/>
<rect x="200.26" y="442.43" width="7.6" height="7.6" fill="#fff" stroke="#000" stroke-width="1.5"/>
<rect x="235.22" y="430.18" width="7.6" height="7.6" fill="#fff" stroke="#000" stroke-width="1.5"/>
<rect x="258.53" y="411.8" width="7.6" height="7.6" fill="#fff" stroke="#000" stroke-width="1.5"/>
<rect x="281.84" y="382.4" width="7.6" height="7.6" fill="#fff" stroke="#000" stroke-width="1.5"/>
<rect x="305.15" y="356.92" width="7.6" height="7.6" fill="#fff" stroke="#000" stroke-width="1.5"/>
<rect x="71.26" y="477.15" width="9.2" height="9.2" fill="#000"/>
<rect x="94.56" y="469.8" width="9.2" height="9.2" fill="#000"/>
<rect x="117.88" y="463.67" width="9.2" height="9.2" fill="#000"/>
<rect x="152.84" y="457.92" width="9.2" height="9.2" fill="#000"/>
<rect x="176.15" y="446.52" width="9.2" height="9.2" fill="#000"/>
<rect x="199.46" y="430.6" width="9.2" height="9.2" fill="#000"/>
<rect x="234.42" y="419.21" width="9.2" height="9.2" fill="#000"/>
<rect x="257.73" y="402.42" width="9.2" height="9.2" fill="#000"/>
<rect x="281.04" y="371.8" width="9.2" height="9.2" fill="#000"/>
<rect x="304.35" y="340.44" width="9.2" height="9.2" fill="#000"/>
<path d="M177.15 490.35L177.65 487.2L175.75 487.2L176.25 490.35ZM176.84 490.78L179.99 490.28L179.4 488.47L176.56 489.92ZM176.34 490.61L177.78 493.46L179.32 492.34L177.06 490.09ZM176.34 490.09L174.08 492.34L175.62 493.46L177.06 490.61ZM176.84 489.92L174 488.47L173.41 490.28L176.56 490.78ZM185.25 490.35L185.75 487.2L183.85 487.2L184.35 490.35ZM184.94 490.78L188.09 490.28L187.5 488.47L184.66 489.92ZM184.44 490.61L185.88 493.46L187.42 492.34L185.16 490.09ZM184.44 490.09L182.18 492.34L183.72 493.46L185.16 490.61ZM184.94 489.92L182.1 488.47L181.51 490.28L184.66 490.78Z" fill="#000"/>
<path d="M200.46 483.35L200.96 480.2L199.06 480.2L199.56 483.35ZM200.15 483.78L203.3 483.28L202.71 481.47L199.87 482.92ZM199.65 483.61L201.09 486.46L202.63 485.34L200.37 483.09ZM199.65 483.09L197.39 485.34L198.93 486.46L200.37 483.61ZM200.15 482.92L197.31 481.47L196.72 483.28L199.87 483.78ZM208.56 483.35L209.06 480.2L207.16 480.2L207.66 483.35ZM208.25 483.78L211.4 483.28L210.81 481.47L207.97 482.92ZM207.75 483.61L209.19 486.46L210.73 485.34L208.47 483.09ZM207.75 483.09L205.49 485.34L207.03 486.46L208.47 483.61ZM208.25 482.92L205.41 481.47L204.82 483.28L207.97 483.78Z" fill="#000"/>
<path d="M235.42 477.35L235.92 474.2L234.02 474.2L234.52 477.35ZM235.11 477.78L238.26 477.28L237.68 475.47L234.84 476.92ZM234.61 477.61L236.06 480.46L237.6 479.34L235.34 477.09ZM234.61 477.09L232.35 479.34L233.89 480.46L235.34 477.61ZM235.11 476.92L232.27 475.47L231.69 477.28L234.84 477.78ZM243.52 477.35L244.02 474.2L242.12 474.2L242.62 477.35ZM243.21 477.78L246.36 477.28L245.78 475.47L242.94 476.92ZM242.71 477.61L244.16 480.46L245.7 479.34L243.44 477.09ZM242.71 477.09L240.45 479.34L241.99 480.46L243.44 477.61ZM243.21 476.92L240.37 475.47L239.79 477.28L242.94 477.78Z" fill="#000"/>
<path d="M258.73 472.85L259.23 469.7L257.33 469.7L257.83 472.85ZM258.42 473.28L261.57 472.78L260.99 470.97L258.15 472.42ZM257.92 473.11L259.37 475.96L260.91 474.84L258.65 472.59ZM257.92 472.59L255.66 474.84L257.2 475.96L258.65 473.11ZM258.42 472.42L255.58 470.97L255 472.78L258.15 473.28ZM266.83 472.85L267.33 469.7L265.44 469.7L265.94 472.85ZM266.52 473.28L269.67 472.78L269.09 470.97L266.25 472.42ZM266.02 473.11L267.47 475.96L269.01 474.84L266.75 472.59ZM266.02 472.59L263.76 474.84L265.3 475.96L266.75 473.11ZM266.52 472.42L263.68 470.97L263.1 472.78L266.25 473.28Z" fill="#000"/>
<path d="M282.04 453.35L282.54 450.2L280.64 450.2L281.14 453.35ZM281.73 453.78L284.88 453.28L284.3 451.47L281.46 452.92ZM281.23 453.61L282.68 456.46L284.22 455.34L281.96 453.09ZM281.23 453.09L278.97 455.34L280.51 456.46L281.96 453.61ZM281.73 452.92L278.89 451.47L278.31 453.28L281.46 453.78ZM290.14 453.35L290.64 450.2L288.75 450.2L289.25 453.35ZM289.83 453.78L292.98 453.28L292.4 451.47L289.56 452.92ZM289.33 453.61L290.78 456.46L292.32 455.34L290.06 453.09ZM289.33 453.09L287.07 455.34L288.61 456.46L290.06 453.61ZM289.83 452.92L286.99 451.47L286.41 453.28L289.56 453.78Z" fill="#000"/>
<path d="M305.35 436.35L305.85 433.2L303.95 433.2L304.45 436.35ZM305.04 436.78L308.19 436.28L307.61 434.47L304.77 435.92ZM304.54 436.61L305.99 439.46L307.53 438.34L305.27 436.09ZM304.54 436.09L302.28 438.34L303.82 439.46L305.27 436.61ZM305.04 435.92L302.2 434.47L301.62 436.28L304.77 436.78ZM313.45 436.35L313.95 433.2L312.06 433.2L312.56 436.35ZM313.14 436.78L316.29 436.28L315.71 434.47L312.87 435.92ZM312.64 436.61L314.09 439.46L315.63 438.34L313.37 436.09ZM312.64 436.09L310.38 438.34L311.92 439.46L313.37 436.61ZM313.14 435.92L310.3 434.47L309.72 436.28L312.87 436.78Z" fill="#000"/>
<line x1="80.7" y1="330.4" x2="121.1" y2="330.4" stroke="#000" stroke-width="1.6"/>
<circle cx="101.4" cy="330.4" r="3.1" fill="#fff" stroke="#000" stroke-width="1.5"/>
<text x="125.7" y="334.57" font-size="12.1" text-anchor="start">Veh</text>
<line x1="80.7" y1="346.5" x2="121.1" y2="346.5" stroke="#000" stroke-width="1.6"/>
<circle cx="101.4" cy="346.5" r="3.87" fill="#000"/>
<text x="125.7" y="350.67" font-size="12.1" text-anchor="start">THC</text>
<line x1="80.7" y1="362.7" x2="121.1" y2="362.7" stroke="#000" stroke-width="1.6"/>
<rect x="98.17" y="359.47" width="6.46" height="6.46" fill="#fff" stroke="#000" stroke-width="1.5"/>
<text x="125.7" y="366.87" font-size="12.1" text-anchor="start">SR2</text>
<line x1="80.7" y1="378.6" x2="121.1" y2="378.6" stroke="#000" stroke-width="1.6"/>
<rect x="97.49" y="374.69" width="7.82" height="7.82" fill="#000"/>
<text x="125.7" y="382.77" font-size="12.1" text-anchor="start">THC+SR2</text>
<line x1="457" y1="495.5" x2="457" y2="324.35" stroke="#000" stroke-width="1.5"/>
<path d="M452 495.5H457M452 471.05H457M452 446.6H457M452 422.15H457M452 397.7H457M452 373.25H457M452 348.8H457M452 324.35H457" stroke="#000" stroke-width="1.5"/>
<text x="444.5" y="499.71" font-size="12.2" text-anchor="end">0</text>
<text x="444.5" y="475.26" font-size="12.2" text-anchor="end">2</text>
<text x="444.5" y="450.81" font-size="12.2" text-anchor="end">4</text>
<text x="444.5" y="426.36" font-size="12.2" text-anchor="end">6</text>
<text x="444.5" y="401.91" font-size="12.2" text-anchor="end">8</text>
<text x="444.5" y="377.46" font-size="12.2" text-anchor="end">10</text>
<text x="444.5" y="353.01" font-size="12.2" text-anchor="end">12</text>
<text x="444.5" y="328.56" font-size="12.2" text-anchor="end">14</text>
<line x1="457" y1="495.7" x2="704.59" y2="495.7" stroke="#000" stroke-width="1.5"/>
<path d="M457 495.7V500.7M539.53 495.7V500.7M622.06 495.7V500.7M704.59 495.7V500.7" stroke="#000" stroke-width="1.5"/>
<text x="458.5" y="519.61" font-size="12.2" text-anchor="middle">0</text>
<text x="539.5" y="519.61" font-size="12.2" text-anchor="middle">7</text>
<text x="621.2" y="519.61" font-size="12.2" text-anchor="middle">14</text>
<text x="701.6" y="519.61" font-size="12.2" text-anchor="middle">21</text>
<text x="419.2" y="407.6" font-size="12.3" text-anchor="middle" transform="rotate(-90 419.2 407.6)">Tumor volume (fold increase)</text>
<text x="581.7" y="541.65" font-size="12.6" text-anchor="middle">Time (days)</text>
<polyline points="468.79,483.27 492.37,483.27 515.95,482.05 551.32,478.38 574.9,473.5 598.48,469.22 633.85,458.82 657.43,449.05 681.01,438.78 704.59,424.96" fill="none" stroke="#000" stroke-width="1.3" stroke-linejoin="round"/>
<polyline points="468.79,483.27 492.37,482.05 515.95,474.11 551.32,468.61 574.9,457.6 598.48,446.6 633.85,435.6 657.43,416.04 681.01,387.92 704.59,362.25" fill="none" stroke="#000" stroke-width="1.3" stroke-linejoin="round"/>
<polyline points="468.79,483.27 492.37,480.83 515.95,473.5 551.32,467.38 574.9,456.99 598.48,446.6 633.85,434.99 657.43,416.04 681.01,387.55 704.59,362.25" fill="none" stroke="#000" stroke-width="1.3" stroke-linejoin="round"/>
<polyline points="468.79,483.27 492.37,480.83 515.95,473.5 551.32,472.27 574.9,464.94 598.48,450.27 633.85,439.88 657.43,420.93 681.01,394.03 704.59,362.25" fill="none" stroke="#000" stroke-width="1.3" stroke-linejoin="round"/>
<path d="M492.37 479.61V486.94M487.77 479.61H496.97M487.77 486.94H496.97" stroke="#000" stroke-width="1.6" fill="none"/>
<path d="M515.95 478.38V485.72M511.35 478.38H520.55M511.35 485.72H520.55" stroke="#000" stroke-width="1.6" fill="none"/>
<path d="M551.32 473.5V483.27M546.72 473.5H555.92M546.72 483.27H555.92" stroke="#000" stroke-width="1.6" fill="none"/>
<path d="M574.9 467.38V479.61M570.3 467.38H579.5M570.3 479.61H579.5" stroke="#000" stroke-width="1.6" fill="none"/>
<path d="M598.48 459.44V479M593.88 459.44H603.08M593.88 479H603.08" stroke="#000" stroke-width="1.6" fill="none"/>
<path d="M633.85 450.27V467.38M629.25 450.27H638.45M629.25 467.38H638.45" stroke="#000" stroke-width="1.6" fill="none"/>
<path d="M657.43 438.04V460.05M652.83 438.04H662.03M652.83 460.05H662.03" stroke="#000" stroke-width="1.6" fill="none"/>
<path d="M681.01 429.97V447.58M676.41 429.97H685.61M676.41 447.58H685.61" stroke="#000" stroke-width="1.6" fill="none"/>
<path d="M704.59 413.35V436.58M699.99 413.35H709.19M699.99 436.58H709.19" stroke="#000" stroke-width="1.6" fill="none"/>
<path d="M492.37 478.38V485.72M487.77 478.38H496.97M487.77 485.72H496.97" stroke="#000" stroke-width="1.6" fill="none"/>
<path d="M515.95 467.99V480.22M511.35 467.99H520.55M511.35 480.22H520.55" stroke="#000" stroke-width="1.6" fill="none"/>
<path d="M551.32 462.49V474.72M546.72 462.49H555.92M546.72 474.72H555.92" stroke="#000" stroke-width="1.6" fill="none"/>
<path d="M574.9 444.15V471.05M570.3 444.15H579.5M570.3 471.05H579.5" stroke="#000" stroke-width="1.6" fill="none"/>
<path d="M598.48 433.15V460.05M593.88 433.15H603.08M593.88 460.05H603.08" stroke="#000" stroke-width="1.6" fill="none"/>
<path d="M633.85 419.7V451.49M629.25 419.7H638.45M629.25 451.49H638.45" stroke="#000" stroke-width="1.6" fill="none"/>
<path d="M657.43 399.53V432.54M652.83 399.53H662.03M652.83 432.54H662.03" stroke="#000" stroke-width="1.6" fill="none"/>
<path d="M681.01 367.14V408.7M676.41 367.14H685.61M676.41 408.7H685.61" stroke="#000" stroke-width="1.6" fill="none"/>
<path d="M704.59 343.91V380.58M699.99 343.91H709.19M699.99 380.58H709.19" stroke="#000" stroke-width="1.6" fill="none"/>
<path d="M492.37 477.16V484.5M487.77 477.16H496.97M487.77 484.5H496.97" stroke="#000" stroke-width="1.6" fill="none"/>
<path d="M515.95 467.38V479.61M511.35 467.38H520.55M511.35 479.61H520.55" stroke="#000" stroke-width="1.6" fill="none"/>
<path d="M551.32 460.05V474.72M546.72 460.05H555.92M546.72 474.72H555.92" stroke="#000" stroke-width="1.6" fill="none"/>
<path d="M574.9 443.54V470.44M570.3 443.54H579.5M570.3 470.44H579.5" stroke="#000" stroke-width="1.6" fill="none"/>
<path d="M598.48 435.6V457.6M593.88 435.6H603.08M593.88 457.6H603.08" stroke="#000" stroke-width="1.6" fill="none"/>
<path d="M633.85 417.87V452.1M629.25 417.87H638.45M629.25 452.1H638.45" stroke="#000" stroke-width="1.6" fill="none"/>
<path d="M657.43 399.53V432.54M652.83 399.53H662.03M652.83 432.54H662.03" stroke="#000" stroke-width="1.6" fill="none"/>
<path d="M681.01 363.1V412M676.41 363.1H685.61M676.41 412H685.61" stroke="#000" stroke-width="1.6" fill="none"/>
<path d="M704.59 335.35V389.14M699.99 335.35H709.19M699.99 389.14H709.19" stroke="#000" stroke-width="1.6" fill="none"/>
<path d="M492.37 477.16V484.5M487.77 477.16H496.97M487.77 484.5H496.97" stroke="#000" stroke-width="1.6" fill="none"/>
<path d="M515.95 467.38V479.61M511.35 467.38H520.55M511.35 479.61H520.55" stroke="#000" stroke-width="1.6" fill="none"/>
<path d="M551.32 466.16V478.38M546.72 466.16H555.92M546.72 478.38H555.92" stroke="#000" stroke-width="1.6" fill="none"/>
<path d="M574.9 456.38V473.5M570.3 456.38H579.5M570.3 473.5H579.5" stroke="#000" stroke-width="1.6" fill="none"/>
<path d="M598.48 439.26V461.27M593.88 439.26H603.08M593.88 461.27H603.08" stroke="#000" stroke-width="1.6" fill="none"/>
<path d="M633.85 425.21V454.55M629.25 425.21H638.45M629.25 454.55H638.45" stroke="#000" stroke-width="1.6" fill="none"/>
<path d="M657.43 402.59V439.26M652.83 402.59H662.03M652.83 439.26H662.03" stroke="#000" stroke-width="1.6" fill="none"/>
<path d="M681.01 373.25V414.81M676.41 373.25H685.61M676.41 414.81H685.61" stroke="#000" stroke-width="1.6" fill="none"/>
<path d="M704.59 325.57V398.92M699.99 325.57H709.19M699.99 398.92H709.19" stroke="#000" stroke-width="1.6" fill="none"/>
<circle cx="468.79" cy="483.27" r="4.55" fill="#000"/>
<circle cx="492.37" cy="483.27" r="4.55" fill="#000"/>
<circle cx="515.95" cy="482.05" r="4.55" fill="#000"/>
<circle cx="551.32" cy="478.38" r="4.55" fill="#000"/>
<circle cx="574.9" cy="473.5" r="4.55" fill="#000"/>
<circle cx="598.48" cy="469.22" r="4.55" fill="#000"/>
<circle cx="633.85" cy="458.82" r="4.55" fill="#000"/>
<circle cx="657.43" cy="449.05" r="4.55" fill="#000"/>
<circle cx="681.01" cy="438.78" r="4.55" fill="#000"/>
<circle cx="704.59" cy="424.96" r="4.55" fill="#000"/>
<circle cx="468.79" cy="483.27" r="3.65" fill="#fff" stroke="#000" stroke-width="1.5"/>
<circle cx="492.37" cy="482.05" r="3.65" fill="#fff" stroke="#000" stroke-width="1.5"/>
<circle cx="515.95" cy="474.11" r="3.65" fill="#fff" stroke="#000" stroke-width="1.5"/>
<circle cx="551.32" cy="468.61" r="3.65" fill="#fff" stroke="#000" stroke-width="1.5"/>
<circle cx="574.9" cy="457.6" r="3.65" fill="#fff" stroke="#000" stroke-width="1.5"/>
<circle cx="598.48" cy="446.6" r="3.65" fill="#fff" stroke="#000" stroke-width="1.5"/>
<circle cx="633.85" cy="435.6" r="3.65" fill="#fff" stroke="#000" stroke-width="1.5"/>
<circle cx="657.43" cy="416.04" r="3.65" fill="#fff" stroke="#000" stroke-width="1.5"/>
<circle cx="681.01" cy="387.92" r="3.65" fill="#fff" stroke="#000" stroke-width="1.5"/>
<circle cx="704.59" cy="362.25" r="3.65" fill="#fff" stroke="#000" stroke-width="1.5"/>
<rect x="464.99" y="479.47" width="7.6" height="7.6" fill="#fff" stroke="#000" stroke-width="1.5"/>
<rect x="488.57" y="477.03" width="7.6" height="7.6" fill="#fff" stroke="#000" stroke-width="1.5"/>
<rect x="512.15" y="469.69" width="7.6" height="7.6" fill="#fff" stroke="#000" stroke-width="1.5"/>
<rect x="547.52" y="463.58" width="7.6" height="7.6" fill="#fff" stroke="#000" stroke-width="1.5"/>
<rect x="571.1" y="453.19" width="7.6" height="7.6" fill="#fff" stroke="#000" stroke-width="1.5"/>
<rect x="594.68" y="442.8" width="7.6" height="7.6" fill="#fff" stroke="#000" stroke-width="1.5"/>
<rect x="630.05" y="431.19" width="7.6" height="7.6" fill="#fff" stroke="#000" stroke-width="1.5"/>
<rect x="653.63" y="412.24" width="7.6" height="7.6" fill="#fff" stroke="#000" stroke-width="1.5"/>
<rect x="677.21" y="383.75" width="7.6" height="7.6" fill="#fff" stroke="#000" stroke-width="1.5"/>
<rect x="700.79" y="358.45" width="7.6" height="7.6" fill="#fff" stroke="#000" stroke-width="1.5"/>
<rect x="464.19" y="478.67" width="9.2" height="9.2" fill="#000"/>
<rect x="487.77" y="476.23" width="9.2" height="9.2" fill="#000"/>
<rect x="511.35" y="468.89" width="9.2" height="9.2" fill="#000"/>
<rect x="546.72" y="467.67" width="9.2" height="9.2" fill="#000"/>
<rect x="570.3" y="460.34" width="9.2" height="9.2" fill="#000"/>
<rect x="593.88" y="445.67" width="9.2" height="9.2" fill="#000"/>
<rect x="629.25" y="435.28" width="9.2" height="9.2" fill="#000"/>
<rect x="652.83" y="416.33" width="9.2" height="9.2" fill="#000"/>
<rect x="676.41" y="389.43" width="9.2" height="9.2" fill="#000"/>
<rect x="699.99" y="357.65" width="9.2" height="9.2" fill="#000"/>
<path d="M571.3 489.1L571.8 485.95L569.9 485.95L570.4 489.1ZM570.99 489.53L574.14 489.03L573.55 487.22L570.71 488.67ZM570.49 489.36L571.93 492.21L573.47 491.09L571.21 488.84ZM570.49 488.84L568.23 491.09L569.77 492.21L571.21 489.36ZM570.99 488.67L568.15 487.22L567.56 489.03L570.71 489.53ZM579.4 489.1L579.9 485.95L578 485.95L578.5 489.1ZM579.09 489.53L582.24 489.03L581.65 487.22L578.81 488.67ZM578.59 489.36L580.03 492.21L581.57 491.09L579.31 488.84ZM578.59 488.84L576.33 491.09L577.87 492.21L579.31 489.36ZM579.09 488.67L576.25 487.22L575.66 489.03L578.81 489.53Z" fill="#000"/>
<path d="M594.88 485.35L595.38 482.2L593.48 482.2L593.98 485.35ZM594.57 485.78L597.72 485.28L597.13 483.47L594.29 484.92ZM594.07 485.61L595.51 488.46L597.05 487.34L594.79 485.09ZM594.07 485.09L591.81 487.34L593.35 488.46L594.79 485.61ZM594.57 484.92L591.73 483.47L591.14 485.28L594.29 485.78ZM602.98 485.35L603.48 482.2L601.58 482.2L602.08 485.35ZM602.67 485.78L605.82 485.28L605.23 483.47L602.39 484.92ZM602.17 485.61L603.61 488.46L605.15 487.34L602.89 485.09ZM602.17 485.09L599.91 487.34L601.45 488.46L602.89 485.61ZM602.67 484.92L599.83 483.47L599.24 485.28L602.39 485.78Z" fill="#000"/>
<path d="M630.25 478.35L630.75 475.2L628.85 475.2L629.35 478.35ZM629.94 478.78L633.09 478.28L632.5 476.47L629.66 477.92ZM629.44 478.61L630.88 481.46L632.42 480.34L630.16 478.09ZM629.44 478.09L627.18 480.34L628.72 481.46L630.16 478.61ZM629.94 477.92L627.1 476.47L626.51 478.28L629.66 478.78ZM638.35 478.35L638.85 475.2L636.95 475.2L637.45 478.35ZM638.04 478.78L641.19 478.28L640.6 476.47L637.76 477.92ZM637.54 478.61L638.98 481.46L640.52 480.34L638.26 478.09ZM637.54 478.09L635.28 480.34L636.82 481.46L638.26 478.61ZM638.04 477.92L635.2 476.47L634.61 478.28L637.76 478.78Z" fill="#000"/>
<path d="M653.83 471.6L654.33 468.45L652.43 468.45L652.93 471.6ZM653.52 472.03L656.67 471.53L656.08 469.72L653.24 471.17ZM653.02 471.86L654.46 474.71L656 473.59L653.74 471.34ZM653.02 471.34L650.76 473.59L652.3 474.71L653.74 471.86ZM653.52 471.17L650.68 469.72L650.09 471.53L653.24 472.03ZM661.93 471.6L662.43 468.45L660.53 468.45L661.03 471.6ZM661.62 472.03L664.77 471.53L664.18 469.72L661.34 471.17ZM661.12 471.86L662.56 474.71L664.1 473.59L661.84 471.34ZM661.12 471.34L658.86 473.59L660.4 474.71L661.84 471.86ZM661.62 471.17L658.78 469.72L658.19 471.53L661.34 472.03Z" fill="#000"/>
<path d="M677.41 456.6L677.91 453.45L676.01 453.45L676.51 456.6ZM677.1 457.03L680.25 456.53L679.66 454.72L676.82 456.17ZM676.6 456.86L678.04 459.71L679.58 458.59L677.32 456.34ZM676.6 456.34L674.34 458.59L675.88 459.71L677.32 456.86ZM677.1 456.17L674.26 454.72L673.67 456.53L676.82 457.03ZM685.51 456.6L686.01 453.45L684.11 453.45L684.61 456.6ZM685.2 457.03L688.35 456.53L687.76 454.72L684.92 456.17ZM684.7 456.86L686.14 459.71L687.68 458.59L685.42 456.34ZM684.7 456.34L682.44 458.59L683.98 459.71L685.42 456.86ZM685.2 456.17L682.36 454.72L681.77 456.53L684.92 457.03Z" fill="#000"/>
<path d="M700.99 447.35L701.49 444.2L699.59 444.2L700.09 447.35ZM700.68 447.78L703.83 447.28L703.24 445.47L700.4 446.92ZM700.18 447.61L701.62 450.46L703.16 449.34L700.9 447.09ZM700.18 447.09L697.92 449.34L699.46 450.46L700.9 447.61ZM700.68 446.92L697.84 445.47L697.25 447.28L700.4 447.78ZM709.09 447.35L709.59 444.2L707.69 444.2L708.19 447.35ZM708.78 447.78L711.93 447.28L711.34 445.47L708.5 446.92ZM708.28 447.61L709.72 450.46L711.26 449.34L709 447.09ZM708.28 447.09L706.02 449.34L707.56 450.46L709 447.61ZM708.78 446.92L705.94 445.47L705.35 447.28L708.5 447.78Z" fill="#000"/>
<line x1="477.3" y1="339.6" x2="518.2" y2="339.6" stroke="#000" stroke-width="1.6"/>
<circle cx="497.7" cy="339.6" r="3.1" fill="#fff" stroke="#000" stroke-width="1.5"/>
<text x="522" y="343.95" font-size="12.6" text-anchor="start">Veh</text>
<line x1="477.3" y1="356.9" x2="518.2" y2="356.9" stroke="#000" stroke-width="1.6"/>
<circle cx="497.7" cy="356.9" r="3.87" fill="#000"/>
<text x="522" y="361.25" font-size="12.6" text-anchor="start">JWH-133</text>
<line x1="477.3" y1="374.7" x2="518.2" y2="374.7" stroke="#000" stroke-width="1.6"/>
<rect x="494.47" y="371.47" width="6.46" height="6.46" fill="#fff" stroke="#000" stroke-width="1.5"/>
<text x="522" y="379.05" font-size="12.6" text-anchor="start">SR2</text>
<line x1="477.3" y1="392.5" x2="518.2" y2="392.5" stroke="#000" stroke-width="1.6"/>
<rect x="493.79" y="388.59" width="7.82" height="7.82" fill="#000"/>
<text x="522" y="396.85" font-size="12.6" text-anchor="start">JWH-133+SR2</text>
<text x="16.8" y="572" font-size="16" text-anchor="start" font-weight="bold">D</text>
<text x="95.7" y="577.35" font-size="12.6" text-anchor="middle">16 h</text>
<line x1="56.6" y1="582" x2="133" y2="582" stroke="#000" stroke-width="1.6"/>
<text x="175.8" y="577.35" font-size="12.6" text-anchor="middle">24 h</text>
<line x1="141.2" y1="582" x2="217" y2="582" stroke="#000" stroke-width="1.6"/>
<text x="64.2" y="600.95" font-size="12.6" text-anchor="middle">0</text>
<text x="84" y="600.95" font-size="12.6" text-anchor="middle">4</text>
<text x="105.5" y="600.95" font-size="12.6" text-anchor="middle">5</text>
<text x="125.3" y="600.95" font-size="12.6" text-anchor="middle">6</text>
<text x="146.7" y="600.95" font-size="12.6" text-anchor="middle">0</text>
<text x="166.6" y="600.95" font-size="12.6" text-anchor="middle">4</text>
<text x="187" y="600.95" font-size="12.6" text-anchor="middle">5</text>
<text x="207.3" y="600.95" font-size="12.6" text-anchor="middle">6</text>
<text x="225.6" y="600.95" font-size="12.6" text-anchor="start">[THC] (µM)</text>
<rect x="50.2" y="606.2" width="174.6" height="17.6" fill="url(#g1)"/>
<rect x="55.8" y="614.1" width="17.2" height="3.6" rx="1.8" fill="#262626" filter="url(#bl)"/>
<rect x="76.2" y="614.1" width="17" height="3.6" rx="1.8" fill="#2e2e2e" filter="url(#bl)"/>
<rect x="96.6" y="614.1" width="15.9" height="3.6" rx="1.8" fill="#575757" filter="url(#bl)"/>
<rect x="117.6" y="614.1" width="16.6" height="3.6" rx="1.8" fill="#8a8a8a" filter="url(#bl)"/>
<rect x="138.3" y="614.1" width="15.9" height="3.6" rx="1.8" fill="#3e3e3e" filter="url(#bl)"/>
<rect x="158.7" y="614.1" width="15.9" height="3.6" rx="1.8" fill="#5a5a5a" filter="url(#bl)"/>
<rect x="179.7" y="614.1" width="15.9" height="3.6" rx="1.8" fill="#959595" filter="url(#bl)"/>
<rect x="201.3" y="614.1" width="16.6" height="3.6" rx="1.8" fill="#a2a2a2" filter="url(#bl)"/>
<text x="46" y="619.35" font-size="12.6" text-anchor="end">p-Akt</text>
<rect x="50.2" y="630.2" width="174.6" height="18.6" fill="#9d9d9d"/>
<rect x="55.8" y="639.9" width="18.7" height="3" rx="1.5" fill="#4e4e4e" filter="url(#bl)"/>
<rect x="76.2" y="639.9" width="18.5" height="3" rx="1.5" fill="#606060" filter="url(#bl)"/>
<rect x="96.6" y="639.9" width="17.4" height="3" rx="1.5" fill="#5a5a5a" filter="url(#bl)"/>
<rect x="117.6" y="639.9" width="18.1" height="3" rx="1.5" fill="#5e5e5e" filter="url(#bl)"/>
<rect x="138.3" y="639.9" width="17.4" height="3" rx="1.5" fill="#555555" filter="url(#bl)"/>
<rect x="158.7" y="639.9" width="17.4" height="3" rx="1.5" fill="#626262" filter="url(#bl)"/>
<rect x="179.7" y="639.9" width="17.4" height="3" rx="1.5" fill="#626262" filter="url(#bl)"/>
<rect x="201.3" y="639.9" width="18.1" height="3" rx="1.5" fill="#878787" filter="url(#bl)"/>
<text x="46" y="641.85" font-size="12.6" text-anchor="end">Akt</text>
<rect x="140.1" y="655.8" width="87.5" height="20.1" fill="#aaaaaa"/>
<rect x="140.8" y="663.5" width="16.5" height="4" rx="2" fill="#474747" filter="url(#bl)"/>
<rect x="163" y="663.5" width="15.3" height="4" rx="2" fill="#4a4a4a" filter="url(#bl)"/>
<rect x="182.8" y="663.5" width="16.5" height="4" rx="2" fill="#333333" filter="url(#bl)"/>
<rect x="204.4" y="663.5" width="14.6" height="4" rx="2" fill="#8c8c8c" filter="url(#bl)"/>
<text x="133" y="672.05" font-size="12.6" text-anchor="end">p-S6</text>
<rect x="140.1" y="680.2" width="87.5" height="19" fill="#8c8c8c"/>
<rect x="140.1" y="688.35" width="84.4" height="5.3" rx="2.65" fill="#111111" filter="url(#bl)"/>
<text x="133" y="693.35" font-size="12.6" text-anchor="end">Tub</text>
<text x="305.9" y="572" font-size="16" text-anchor="start" font-weight="bold">E</text>
<rect x="340.1" y="590.4" width="42.9" height="18.6" fill="#d3d3d3"/>
<rect x="341.5" y="600.4" width="15.5" height="2.4" rx="1.2" fill="#a9a9a9" filter="url(#bl)"/>
<rect x="359.4" y="598.4" width="22.8" height="4.2" rx="2.1" fill="#111111" filter="url(#bl)"/>
<text x="334.8" y="603.65" font-size="12.6" text-anchor="end">p-Akt</text>
<rect x="340.1" y="614.4" width="43.7" height="19" fill="#cfcfcf"/>
<rect x="341.5" y="623" width="17" height="4.2" rx="2.1" fill="#1a1a1a" filter="url(#bl)"/>
<rect x="359.5" y="621.2" width="23.3" height="6.6" rx="3.3" fill="#0a0a0a" filter="url(#bl)"/>
<text x="334.8" y="627.35" font-size="12.6" text-anchor="end">Akt</text>
<rect x="341" y="639.2" width="41.6" height="19.1" fill="#d6d6d6"/>
<rect x="341" y="646.5" width="41.6" height="5.6" rx="2.8" fill="#0d0d0d" filter="url(#bl)"/>
<text x="334.8" y="652.85" font-size="12.6" text-anchor="end">Tub</text>
<text x="339" y="674.65" font-size="12.6" text-anchor="middle">pBABE</text>
<text x="366" y="674.65" font-size="12.6" text-anchor="start">pBABE-</text>
<text x="367" y="688.85" font-size="12.6" text-anchor="start">myr-Akt</text>
<text x="430" y="570" font-size="16" text-anchor="start" font-weight="bold">F</text>
<line x1="476.25" y1="721.25" x2="476.25" y2="585.03" stroke="#000" stroke-width="1.5"/>
<path d="M471.25 721.25H476.25M471.25 701.79H476.25M471.25 682.33H476.25M471.25 662.87H476.25M471.25 643.41H476.25M471.25 623.95H476.25M471.25 604.49H476.25M471.25 585.03H476.25" stroke="#000" stroke-width="1.5"/>
<text x="468" y="725.46" font-size="12.2" text-anchor="end">0</text>
<text x="468" y="706" font-size="12.2" text-anchor="end">20</text>
<text x="468" y="686.54" font-size="12.2" text-anchor="end">40</text>
<text x="468" y="667.08" font-size="12.2" text-anchor="end">60</text>
<text x="468" y="647.62" font-size="12.2" text-anchor="end">80</text>
<text x="468" y="628.16" font-size="12.2" text-anchor="end">100</text>
<text x="468" y="608.7" font-size="12.2" text-anchor="end">120</text>
<text x="468" y="589.24" font-size="12.2" text-anchor="end">140</text>
<line x1="476.25" y1="721.25" x2="716.5" y2="721.25" stroke="#000" stroke-width="1.5"/>
<text x="438" y="647.5" font-size="12.6" text-anchor="middle" transform="rotate(-90 438 647.5)">Cell viability (%)</text>
<path d="M497.12 608.38V623.95M492.43 608.38H501.82M492.43 623.95H501.82" stroke="#000" stroke-width="1.6" fill="none"/>
<path d="M523.38 634.65V637.57M518.67 634.65H528.08M518.67 637.57H528.08" stroke="#000" stroke-width="1.6" fill="none"/>
<path d="M549.38 670.65V671.63M544.67 670.65H554.08M544.67 671.63H554.08" stroke="#000" stroke-width="1.6" fill="none"/>
<path d="M575.88 697.41V704.71M571.17 697.41H580.58M571.17 704.71H580.58" stroke="#000" stroke-width="1.6" fill="none"/>
<rect x="483.75" y="623.95" width="26.75" height="97.3" fill="#fff" stroke="#000" stroke-width="1.5"/>
<rect x="510.5" y="637.57" width="25.75" height="83.68" fill="#fff" stroke="#000" stroke-width="1.5"/>
<rect x="536.25" y="671.63" width="26.25" height="49.62" fill="#fff" stroke="#000" stroke-width="1.5"/>
<rect x="562.5" y="704.71" width="26.75" height="16.54" fill="#fff" stroke="#000" stroke-width="1.5"/>
<path d="M616.88 599.62V623.95M612.17 599.62H621.58M612.17 623.95H621.58" stroke="#000" stroke-width="1.6" fill="none"/>
<path d="M669.75 627.36V629.79M665.05 627.36H674.45M665.05 629.79H674.45" stroke="#000" stroke-width="1.6" fill="none"/>
<path d="M696.25 667.74V673.57M691.55 667.74H700.95M691.55 673.57H700.95" stroke="#000" stroke-width="1.6" fill="none"/>
<rect x="604" y="623.95" width="25.75" height="97.3" fill="#fff" stroke="#000" stroke-width="1.5"/>
<rect x="629.75" y="618.11" width="26.75" height="103.14" fill="#fff" stroke="#000" stroke-width="1.5"/>
<rect x="656.5" y="629.79" width="26.5" height="91.46" fill="#fff" stroke="#000" stroke-width="1.5"/>
<rect x="683" y="673.57" width="26.5" height="47.68" fill="#fff" stroke="#000" stroke-width="1.5"/>
<path d="M523.95 626.35L524.45 623.2L522.55 623.2L523.05 626.35ZM523.64 626.78L526.79 626.28L526.2 624.47L523.36 625.92ZM523.14 626.61L524.58 629.46L526.12 628.34L523.86 626.09ZM523.14 626.09L520.88 628.34L522.42 629.46L523.86 626.61ZM523.64 625.92L520.8 624.47L520.21 626.28L523.36 626.78Z" fill="#000"/>
<path d="M545.9 664.85L546.4 661.7L544.5 661.7L545 664.85ZM545.59 665.28L548.74 664.78L548.15 662.97L545.31 664.42ZM545.09 665.11L546.53 667.96L548.07 666.84L545.81 664.59ZM545.09 664.59L542.83 666.84L544.37 667.96L545.81 665.11ZM545.59 664.42L542.75 662.97L542.16 664.78L545.31 665.28ZM554 664.85L554.5 661.7L552.6 661.7L553.1 664.85ZM553.69 665.28L556.84 664.78L556.25 662.97L553.41 664.42ZM553.19 665.11L554.63 667.96L556.17 666.84L553.91 664.59ZM553.19 664.59L550.93 666.84L552.47 667.96L553.91 665.11ZM553.69 664.42L550.85 662.97L550.26 664.78L553.41 665.28Z" fill="#000"/>
<path d="M572.4 692.35L572.9 689.2L571 689.2L571.5 692.35ZM572.09 692.78L575.24 692.28L574.65 690.47L571.81 691.92ZM571.59 692.61L573.03 695.46L574.57 694.34L572.31 692.09ZM571.59 692.09L569.33 694.34L570.87 695.46L572.31 692.61ZM572.09 691.92L569.25 690.47L568.66 692.28L571.81 692.78ZM580.5 692.35L581 689.2L579.1 689.2L579.6 692.35ZM580.19 692.78L583.34 692.28L582.75 690.47L579.91 691.92ZM579.69 692.61L581.13 695.46L582.67 694.34L580.41 692.09ZM579.69 692.09L577.43 694.34L578.97 695.46L580.41 692.61ZM580.19 691.92L577.35 690.47L576.76 692.28L579.91 692.78Z" fill="#000"/>
<text x="644.5" y="612.97" font-size="12.8" text-anchor="middle" font-family="Liberation Serif" font-weight="bold">#</text>
<text x="670.25" y="621.22" font-size="12.8" text-anchor="middle" font-family="Liberation Serif" font-weight="bold">##</text>
<text x="696" y="653.72" font-size="12.8" text-anchor="middle" font-family="Liberation Serif" font-weight="bold">#</text>
<path d="M692.4 660.85L692.9 657.7L691 657.7L691.5 660.85ZM692.09 661.28L695.24 660.78L694.65 658.97L691.81 660.42ZM691.59 661.11L693.03 663.96L694.57 662.84L692.31 660.59ZM691.59 660.59L689.33 662.84L690.87 663.96L692.31 661.11ZM692.09 660.42L689.25 658.97L688.66 660.78L691.81 661.28ZM700.5 660.85L701 657.7L699.1 657.7L699.6 660.85ZM700.19 661.28L703.34 660.78L702.75 658.97L699.91 660.42ZM699.69 661.11L701.13 663.96L702.67 662.84L700.41 660.59ZM699.69 660.59L697.43 662.84L698.97 663.96L700.41 661.11ZM700.19 660.42L697.35 658.97L696.76 660.78L699.91 661.28Z" fill="#000"/>
<text x="497.5" y="736.65" font-size="12.6" text-anchor="middle">0</text>
<text x="523.75" y="736.65" font-size="12.6" text-anchor="middle">4</text>
<text x="548.25" y="736.65" font-size="12.6" text-anchor="middle">5</text>
<text x="575" y="736.65" font-size="12.6" text-anchor="middle">6</text>
<text x="618.5" y="736.65" font-size="12.6" text-anchor="middle">0</text>
<text x="645.25" y="736.65" font-size="12.6" text-anchor="middle">4</text>
<text x="669.5" y="736.65" font-size="12.6" text-anchor="middle">5</text>
<text x="696.5" y="736.65" font-size="12.6" text-anchor="middle">6</text>
<text x="714" y="736.65" font-size="12.6" text-anchor="start">[THC] (µM)</text>
<line x1="483.75" y1="743.75" x2="583" y2="743.75" stroke="#000" stroke-width="1.6"/>
<line x1="608.5" y1="743.75" x2="702.75" y2="743.75" stroke="#000" stroke-width="1.6"/>
<text x="535.3" y="760.15" font-size="12.6" text-anchor="middle">pBABE</text>
<text x="654.8" y="760.15" font-size="12.6" text-anchor="middle">pBABE-myr-Akt</text>
<text x="16.5" y="770.5" font-size="16" text-anchor="start" font-weight="bold">G</text>
<line x1="68.9" y1="970.3" x2="68.9" y2="795.4" stroke="#000" stroke-width="1.5"/>
<path d="M62.6 970.3H68.9M62.6 941.15H68.9M62.6 912H68.9M62.6 882.85H68.9M62.6 853.7H68.9M62.6 824.55H68.9M62.6 795.4H68.9" stroke="#000" stroke-width="1.5"/>
<text x="53.2" y="974.51" font-size="12.2" text-anchor="end">0</text>
<text x="53.2" y="945.36" font-size="12.2" text-anchor="end">5</text>
<text x="53.2" y="916.21" font-size="12.2" text-anchor="end">10</text>
<text x="53.2" y="887.06" font-size="12.2" text-anchor="end">15</text>
<text x="53.2" y="857.91" font-size="12.2" text-anchor="end">20</text>
<text x="53.2" y="828.76" font-size="12.2" text-anchor="end">25</text>
<text x="53.2" y="799.61" font-size="12.2" text-anchor="end">30</text>
<line x1="62.5" y1="970.6" x2="292.35" y2="970.6" stroke="#000" stroke-width="1.5"/>
<path d="M68.7 970.6V975.6M143.25 970.6V975.6M217.8 970.6V975.6M292.35 970.6V975.6" stroke="#000" stroke-width="1.5"/>
<text x="68.7" y="995.21" font-size="12.2" text-anchor="middle">0</text>
<text x="143.25" y="995.21" font-size="12.2" text-anchor="middle">7</text>
<text x="217.8" y="995.21" font-size="12.2" text-anchor="middle">14</text>
<text x="292.35" y="995.21" font-size="12.2" text-anchor="middle">21</text>
<text x="29.3" y="882.4" font-size="12.4" text-anchor="middle" transform="rotate(-90 29.3 882.4)">Tumor volume (fold increase)</text>
<text x="179.2" y="1013.35" font-size="12.6" text-anchor="middle">Time (days)</text>
<polyline points="79.35,964.47 100.65,958.64 121.95,955.14 153.9,944.65 175.2,925.99 196.5,919.58 228.45,905 249.75,878.77 271.05,856.62 292.35,814.64" fill="none" stroke="#000" stroke-width="1.3" stroke-linejoin="round"/>
<polyline points="79.35,964.47 100.65,959.22 121.95,955.72 153.9,947.27 175.2,939.4 196.5,927.74 228.45,913.46 249.75,906.17 271.05,888.68 292.35,875.85" fill="none" stroke="#000" stroke-width="1.3" stroke-linejoin="round"/>
<path d="M100.65 956.31V960.97M96.05 956.31H105.25M96.05 960.97H105.25" stroke="#000" stroke-width="1.6" fill="none"/>
<path d="M121.95 952.81V957.47M117.35 952.81H126.55M117.35 957.47H126.55" stroke="#000" stroke-width="1.6" fill="none"/>
<path d="M153.9 940.28V949.02M149.3 940.28H158.5M149.3 949.02H158.5" stroke="#000" stroke-width="1.6" fill="none"/>
<path d="M175.2 920.45V931.53M170.6 920.45H179.8M170.6 931.53H179.8" stroke="#000" stroke-width="1.6" fill="none"/>
<path d="M196.5 910.25V928.91M191.9 910.25H201.1M191.9 928.91H201.1" stroke="#000" stroke-width="1.6" fill="none"/>
<path d="M228.45 895.09V914.91M223.85 895.09H233.05M223.85 914.91H233.05" stroke="#000" stroke-width="1.6" fill="none"/>
<path d="M249.75 867.4V890.14M245.15 867.4H254.35M245.15 890.14H254.35" stroke="#000" stroke-width="1.6" fill="none"/>
<path d="M271.05 844.37V868.86M266.45 844.37H275.65M266.45 868.86H275.65" stroke="#000" stroke-width="1.6" fill="none"/>
<path d="M292.35 796.27V833M287.75 796.27H296.95M287.75 833H296.95" stroke="#000" stroke-width="1.6" fill="none"/>
<path d="M100.65 957.47V960.97M96.05 957.47H105.25M96.05 960.97H105.25" stroke="#000" stroke-width="1.6" fill="none"/>
<path d="M121.95 953.98V957.47M117.35 953.98H126.55M117.35 957.47H126.55" stroke="#000" stroke-width="1.6" fill="none"/>
<path d="M153.9 944.94V949.6M149.3 944.94H158.5M149.3 949.6H158.5" stroke="#000" stroke-width="1.6" fill="none"/>
<path d="M175.2 936.49V942.32M170.6 936.49H179.8M170.6 942.32H179.8" stroke="#000" stroke-width="1.6" fill="none"/>
<path d="M196.5 924.24V931.24M191.9 924.24H201.1M191.9 931.24H201.1" stroke="#000" stroke-width="1.6" fill="none"/>
<path d="M228.45 909.96V916.96M223.85 909.96H233.05M223.85 916.96H233.05" stroke="#000" stroke-width="1.6" fill="none"/>
<path d="M249.75 902.67V909.67M245.15 902.67H254.35M245.15 909.67H254.35" stroke="#000" stroke-width="1.6" fill="none"/>
<path d="M271.05 884.6V892.76M266.45 884.6H275.65M266.45 892.76H275.65" stroke="#000" stroke-width="1.6" fill="none"/>
<path d="M292.35 861.28V890.43M287.75 861.28H296.95M287.75 890.43H296.95" stroke="#000" stroke-width="1.6" fill="none"/>
<circle cx="79.35" cy="964.47" r="3.65" fill="#fff" stroke="#000" stroke-width="1.5"/>
<circle cx="100.65" cy="958.64" r="3.65" fill="#fff" stroke="#000" stroke-width="1.5"/>
<circle cx="121.95" cy="955.14" r="3.65" fill="#fff" stroke="#000" stroke-width="1.5"/>
<circle cx="153.9" cy="944.65" r="3.65" fill="#fff" stroke="#000" stroke-width="1.5"/>
<circle cx="175.2" cy="925.99" r="3.65" fill="#fff" stroke="#000" stroke-width="1.5"/>
<circle cx="196.5" cy="919.58" r="3.65" fill="#fff" stroke="#000" stroke-width="1.5"/>
<circle cx="228.45" cy="905" r="3.65" fill="#fff" stroke="#000" stroke-width="1.5"/>
<circle cx="249.75" cy="878.77" r="3.65" fill="#fff" stroke="#000" stroke-width="1.5"/>
<circle cx="271.05" cy="856.62" r="3.65" fill="#fff" stroke="#000" stroke-width="1.5"/>
<circle cx="292.35" cy="814.64" r="3.65" fill="#fff" stroke="#000" stroke-width="1.5"/>
<circle cx="79.35" cy="964.47" r="4.55" fill="#000"/>
<circle cx="100.65" cy="959.22" r="4.55" fill="#000"/>
<circle cx="121.95" cy="955.72" r="4.55" fill="#000"/>
<rect x="149.3" y="942.67" width="9.2" height="9.2" fill="#000"/>
<rect x="170.6" y="934.8" width="9.2" height="9.2" fill="#000"/>
<rect x="191.9" y="923.14" width="9.2" height="9.2" fill="#000"/>
<rect x="223.85" y="908.86" width="9.2" height="9.2" fill="#000"/>
<rect x="245.15" y="901.57" width="9.2" height="9.2" fill="#000"/>
<rect x="266.45" y="884.08" width="9.2" height="9.2" fill="#000"/>
<circle cx="292.35" cy="875.85" r="4.55" fill="#000"/>
<path d="M175.65 952.85L176.15 949.7L174.25 949.7L174.75 952.85ZM175.34 953.28L178.49 952.78L177.9 950.97L175.06 952.42ZM174.84 953.11L176.28 955.96L177.82 954.84L175.56 952.59ZM174.84 952.59L172.58 954.84L174.12 955.96L175.56 953.11ZM175.34 952.42L172.5 950.97L171.91 952.78L175.06 953.28Z" fill="#000"/>
<path d="M196.95 941.6L197.45 938.45L195.55 938.45L196.05 941.6ZM196.64 942.03L199.79 941.53L199.2 939.72L196.36 941.17ZM196.14 941.86L197.58 944.71L199.12 943.59L196.86 941.34ZM196.14 941.34L193.88 943.59L195.42 944.71L196.86 941.86ZM196.64 941.17L193.8 939.72L193.21 941.53L196.36 942.03Z" fill="#000"/>
<path d="M228.9 926.6L229.4 923.45L227.5 923.45L228 926.6ZM228.59 927.03L231.74 926.53L231.15 924.72L228.31 926.17ZM228.09 926.86L229.53 929.71L231.07 928.59L228.81 926.34ZM228.09 926.34L225.83 928.59L227.37 929.71L228.81 926.86ZM228.59 926.17L225.75 924.72L225.16 926.53L228.31 927.03Z" fill="#000"/>
<path d="M250.2 919.6L250.7 916.45L248.8 916.45L249.3 919.6ZM249.89 920.03L253.04 919.53L252.45 917.72L249.61 919.17ZM249.39 919.86L250.83 922.71L252.37 921.59L250.11 919.34ZM249.39 919.34L247.13 921.59L248.67 922.71L250.11 919.86ZM249.89 919.17L247.05 917.72L246.46 919.53L249.61 920.03Z" fill="#000"/>
<path d="M267.45 905.35L267.95 902.2L266.05 902.2L266.55 905.35ZM267.14 905.78L270.29 905.28L269.7 903.47L266.86 904.92ZM266.64 905.61L268.08 908.46L269.62 907.34L267.36 905.09ZM266.64 905.09L264.38 907.34L265.92 908.46L267.36 905.61ZM267.14 904.92L264.3 903.47L263.71 905.28L266.86 905.78ZM275.55 905.35L276.05 902.2L274.15 902.2L274.65 905.35ZM275.24 905.78L278.39 905.28L277.8 903.47L274.96 904.92ZM274.74 905.61L276.18 908.46L277.72 907.34L275.46 905.09ZM274.74 905.09L272.48 907.34L274.02 908.46L275.46 905.61ZM275.24 904.92L272.4 903.47L271.81 905.28L274.96 905.78Z" fill="#000"/>
<path d="M288.75 899.85L289.25 896.7L287.35 896.7L287.85 899.85ZM288.44 900.28L291.59 899.78L291 897.97L288.16 899.42ZM287.94 900.11L289.38 902.96L290.92 901.84L288.66 899.59ZM287.94 899.59L285.68 901.84L287.22 902.96L288.66 900.11ZM288.44 899.42L285.6 897.97L285.01 899.78L288.16 900.28ZM296.85 899.85L297.35 896.7L295.45 896.7L295.95 899.85ZM296.54 900.28L299.69 899.78L299.1 897.97L296.26 899.42ZM296.04 900.11L297.48 902.96L299.02 901.84L296.76 899.59ZM296.04 899.59L293.78 901.84L295.32 902.96L296.76 900.11ZM296.54 899.42L293.7 897.97L293.11 899.78L296.26 900.28Z" fill="#000"/>
<line x1="89.5" y1="799.25" x2="129.5" y2="799.25" stroke="#000" stroke-width="1.6"/>
<circle cx="109.5" cy="799.25" r="2.74" fill="#fff" stroke="#000" stroke-width="1.5"/>
<text x="133.5" y="803.6" font-size="12.6" text-anchor="start">pBABE_Veh</text>
<line x1="89.5" y1="815" x2="129.5" y2="815" stroke="#000" stroke-width="1.6"/>
<circle cx="109.5" cy="815" r="3.41" fill="#000"/>
<text x="133.5" y="819.35" font-size="12.6" text-anchor="start">pBABE_THC</text>
<line x1="464.5" y1="970.7" x2="464.5" y2="793.9" stroke="#000" stroke-width="1.5"/>
<path d="M458.5 970.7H464.5M458.5 926.5H464.5M458.5 882.3H464.5M458.5 838.1H464.5M458.5 793.9H464.5" stroke="#000" stroke-width="1.5"/>
<text x="449.2" y="976.71" font-size="12.2" text-anchor="end">0</text>
<text x="449.2" y="932.51" font-size="12.2" text-anchor="end">10</text>
<text x="449.2" y="888.31" font-size="12.2" text-anchor="end">20</text>
<text x="449.2" y="844.11" font-size="12.2" text-anchor="end">30</text>
<text x="449.2" y="799.91" font-size="12.2" text-anchor="end">40</text>
<line x1="459" y1="970.7" x2="692.02" y2="970.7" stroke="#000" stroke-width="1.5"/>
<path d="M464.8 970.7V975.7M540.54 970.7V975.7M616.28 970.7V975.7M692.02 970.7V975.7" stroke="#000" stroke-width="1.5"/>
<text x="464.8" y="996.91" font-size="12.2" text-anchor="middle">0</text>
<text x="540.54" y="996.91" font-size="12.2" text-anchor="middle">7</text>
<text x="616.28" y="996.91" font-size="12.2" text-anchor="middle">14</text>
<text x="692.02" y="996.91" font-size="12.2" text-anchor="middle">21</text>
<text x="425" y="879.3" font-size="12.4" text-anchor="middle" transform="rotate(-90 425 879.3)">Tumor volume (fold increase)</text>
<text x="580" y="1017.65" font-size="12.6" text-anchor="middle">Time (days)</text>
<polyline points="475.62,966.28 497.26,964.73 518.9,957.44 551.36,947.27 573,938.88 594.64,928.27 627.1,914.57 648.74,896.44 670.38,871.25 692.02,842.52" fill="none" stroke="#000" stroke-width="1.3" stroke-linejoin="round"/>
<polyline points="475.62,966.28 497.26,960.98 518.9,957 551.36,947.27 573,938.88 594.64,927.16 627.1,908.82 648.74,889.37 670.38,864.62 692.02,840.75" fill="none" stroke="#000" stroke-width="1.3" stroke-linejoin="round"/>
<path d="M497.26 962.97V966.5M492.66 962.97H501.86M492.66 966.5H501.86" stroke="#000" stroke-width="1.6" fill="none"/>
<path d="M518.9 955.23V959.65M514.3 955.23H523.5M514.3 959.65H523.5" stroke="#000" stroke-width="1.6" fill="none"/>
<path d="M551.36 944.62V949.93M546.76 944.62H555.96M546.76 949.93H555.96" stroke="#000" stroke-width="1.6" fill="none"/>
<path d="M573 935.34V942.41M568.4 935.34H577.6M568.4 942.41H577.6" stroke="#000" stroke-width="1.6" fill="none"/>
<path d="M594.64 918.54V937.99M590.04 918.54H599.24M590.04 937.99H599.24" stroke="#000" stroke-width="1.6" fill="none"/>
<path d="M627.1 906.17V922.96M622.5 906.17H631.7M622.5 922.96H631.7" stroke="#000" stroke-width="1.6" fill="none"/>
<path d="M648.74 878.76V914.12M644.14 878.76H653.34M644.14 914.12H653.34" stroke="#000" stroke-width="1.6" fill="none"/>
<path d="M670.38 851.36V891.14M665.78 851.36H674.98M665.78 891.14H674.98" stroke="#000" stroke-width="1.6" fill="none"/>
<path d="M692.02 816.88V868.16M687.42 816.88H696.62M687.42 868.16H696.62" stroke="#000" stroke-width="1.6" fill="none"/>
<path d="M497.26 959.21V962.74M492.66 959.21H501.86M492.66 962.74H501.86" stroke="#000" stroke-width="1.6" fill="none"/>
<path d="M518.9 954.79V959.21M514.3 954.79H523.5M514.3 959.21H523.5" stroke="#000" stroke-width="1.6" fill="none"/>
<path d="M551.36 944.62V949.93M546.76 944.62H555.96M546.76 949.93H555.96" stroke="#000" stroke-width="1.6" fill="none"/>
<path d="M573 935.34V942.41M568.4 935.34H577.6M568.4 942.41H577.6" stroke="#000" stroke-width="1.6" fill="none"/>
<path d="M594.64 922.74V931.58M590.04 922.74H599.24M590.04 931.58H599.24" stroke="#000" stroke-width="1.6" fill="none"/>
<path d="M627.1 899.1V918.54M622.5 899.1H631.7M622.5 918.54H631.7" stroke="#000" stroke-width="1.6" fill="none"/>
<path d="M648.74 878.76V899.98M644.14 878.76H653.34M644.14 899.98H653.34" stroke="#000" stroke-width="1.6" fill="none"/>
<path d="M670.38 859.32V869.92M665.78 859.32H674.98M665.78 869.92H674.98" stroke="#000" stroke-width="1.6" fill="none"/>
<path d="M692.02 829.7V851.8M687.42 829.7H696.62M687.42 851.8H696.62" stroke="#000" stroke-width="1.6" fill="none"/>
<rect x="471.82" y="962.48" width="7.6" height="7.6" fill="#fff" stroke="#000" stroke-width="1.5"/>
<rect x="493.46" y="960.93" width="7.6" height="7.6" fill="#fff" stroke="#000" stroke-width="1.5"/>
<rect x="515.1" y="953.64" width="7.6" height="7.6" fill="#fff" stroke="#000" stroke-width="1.5"/>
<rect x="547.56" y="943.47" width="7.6" height="7.6" fill="#fff" stroke="#000" stroke-width="1.5"/>
<rect x="569.2" y="935.08" width="7.6" height="7.6" fill="#fff" stroke="#000" stroke-width="1.5"/>
<rect x="590.84" y="924.47" width="7.6" height="7.6" fill="#fff" stroke="#000" stroke-width="1.5"/>
<rect x="623.3" y="910.77" width="7.6" height="7.6" fill="#fff" stroke="#000" stroke-width="1.5"/>
<rect x="644.94" y="892.64" width="7.6" height="7.6" fill="#fff" stroke="#000" stroke-width="1.5"/>
<rect x="666.58" y="867.45" width="7.6" height="7.6" fill="#fff" stroke="#000" stroke-width="1.5"/>
<rect x="688.22" y="838.72" width="7.6" height="7.6" fill="#fff" stroke="#000" stroke-width="1.5"/>
<rect x="471.02" y="961.68" width="9.2" height="9.2" fill="#000"/>
<rect x="492.66" y="956.38" width="9.2" height="9.2" fill="#000"/>
<rect x="514.3" y="952.4" width="9.2" height="9.2" fill="#000"/>
<rect x="546.76" y="942.67" width="9.2" height="9.2" fill="#000"/>
<rect x="568.4" y="934.28" width="9.2" height="9.2" fill="#000"/>
<rect x="590.04" y="922.56" width="9.2" height="9.2" fill="#000"/>
<rect x="622.5" y="904.22" width="9.2" height="9.2" fill="#000"/>
<rect x="644.14" y="884.77" width="9.2" height="9.2" fill="#000"/>
<rect x="665.78" y="860.02" width="9.2" height="9.2" fill="#000"/>
<rect x="687.42" y="836.15" width="9.2" height="9.2" fill="#000"/>
<line x1="486.25" y1="801.75" x2="525" y2="801.75" stroke="#000" stroke-width="1.6"/>
<rect x="503.51" y="799.01" width="5.47" height="5.47" fill="#fff" stroke="#000" stroke-width="1.5"/>
<text x="530.5" y="805.99" font-size="12.3" text-anchor="start">pBABE-myr-Akt_Veh</text>
<line x1="486.25" y1="818.75" x2="525" y2="818.75" stroke="#000" stroke-width="1.6"/>
<rect x="502.94" y="815.44" width="6.62" height="6.62" fill="#000"/>
<text x="530.5" y="822.99" font-size="12.3" text-anchor="start">pBABE-myr-Akt_THC</text>
<text x="16.5" y="1032" font-size="16" text-anchor="start" font-weight="bold">H</text>
<line x1="85.6" y1="1226.2" x2="85.6" y2="1054.45" stroke="#000" stroke-width="1.5"/>
<path d="M80.6 1226.2H85.6M80.6 1191.85H85.6M80.6 1157.5H85.6M80.6 1123.15H85.6M80.6 1088.8H85.6M80.6 1054.45H85.6" stroke="#000" stroke-width="1.5"/>
<text x="73.3" y="1231.41" font-size="12.2" text-anchor="end">0</text>
<text x="73.3" y="1197.06" font-size="12.2" text-anchor="end">500</text>
<text x="73.3" y="1162.71" font-size="12.2" text-anchor="end">1000</text>
<text x="73.3" y="1128.36" font-size="12.2" text-anchor="end">1500</text>
<text x="73.3" y="1094.01" font-size="12.2" text-anchor="end">2000</text>
<text x="73.3" y="1059.66" font-size="12.2" text-anchor="end">2500</text>
<line x1="80" y1="1226.7" x2="310.94" y2="1226.7" stroke="#000" stroke-width="1.5"/>
<path d="M85.4 1226.7V1231.7M160.58 1226.7V1231.7M235.76 1226.7V1231.7M310.94 1226.7V1231.7" stroke="#000" stroke-width="1.5"/>
<text x="85.3" y="1247.91" font-size="12.2" text-anchor="middle">0</text>
<text x="158.5" y="1247.91" font-size="12.2" text-anchor="middle">7</text>
<text x="232.4" y="1247.91" font-size="12.2" text-anchor="middle">14</text>
<text x="305" y="1247.91" font-size="12.2" text-anchor="middle">21</text>
<text x="28.5" y="1138" font-size="12.6" text-anchor="middle" transform="rotate(-90 28.5 1138)">Tumor volume (mm<tspan font-size="9" dy="-4.5">3</tspan><tspan dy="4.5">)</tspan></text>
<text x="194.8" y="1265.55" font-size="12.6" text-anchor="middle">Time (days)</text>
<polyline points="96.14,1217.27 117.62,1212.46 139.1,1206.28 171.32,1197.62 192.8,1185.8 214.28,1177.49 246.5,1156.95 267.98,1140.33 289.46,1114.22 310.94,1090.38" fill="none" stroke="#000" stroke-width="1.3" stroke-linejoin="round"/>
<polyline points="96.14,1217.27 117.62,1215.55 139.1,1210.61 171.32,1204.63 192.8,1198.86 214.28,1191.3 246.5,1184.29 267.98,1174.47 289.46,1161.14 310.94,1144.86" fill="none" stroke="#000" stroke-width="1.3" stroke-linejoin="round"/>
<path d="M96.14 1215.21V1219.33M91.54 1215.21H100.74M91.54 1219.33H100.74" stroke="#000" stroke-width="1.6" fill="none"/>
<path d="M117.62 1209.71V1215.21M113.02 1209.71H122.22M113.02 1215.21H122.22" stroke="#000" stroke-width="1.6" fill="none"/>
<path d="M139.1 1203.53V1209.03M134.5 1203.53H143.7M134.5 1209.03H143.7" stroke="#000" stroke-width="1.6" fill="none"/>
<path d="M171.32 1191.44V1203.8M166.72 1191.44H175.92M166.72 1203.8H175.92" stroke="#000" stroke-width="1.6" fill="none"/>
<path d="M192.8 1179.28V1192.33M188.2 1179.28H197.4M188.2 1192.33H197.4" stroke="#000" stroke-width="1.6" fill="none"/>
<path d="M214.28 1172V1182.99M209.68 1172H218.88M209.68 1182.99H218.88" stroke="#000" stroke-width="1.6" fill="none"/>
<path d="M246.5 1145.27V1168.63M241.9 1145.27H251.1M241.9 1168.63H251.1" stroke="#000" stroke-width="1.6" fill="none"/>
<path d="M267.98 1129.88V1150.77M263.38 1129.88H272.58M263.38 1150.77H272.58" stroke="#000" stroke-width="1.6" fill="none"/>
<path d="M289.46 1096.63V1131.81M284.86 1096.63H294.06M284.86 1131.81H294.06" stroke="#000" stroke-width="1.6" fill="none"/>
<path d="M310.94 1075.68V1105.08M306.34 1075.68H315.54M306.34 1105.08H315.54" stroke="#000" stroke-width="1.6" fill="none"/>
<path d="M96.14 1215.21V1219.33M91.54 1215.21H100.74M91.54 1219.33H100.74" stroke="#000" stroke-width="1.6" fill="none"/>
<path d="M117.62 1212.8V1218.3M113.02 1212.8H122.22M113.02 1218.3H122.22" stroke="#000" stroke-width="1.6" fill="none"/>
<path d="M139.1 1207.86V1213.35M134.5 1207.86H143.7M134.5 1213.35H143.7" stroke="#000" stroke-width="1.6" fill="none"/>
<path d="M171.32 1200.51V1208.75M166.72 1200.51H175.92M166.72 1208.75H175.92" stroke="#000" stroke-width="1.6" fill="none"/>
<path d="M192.8 1194.05V1203.67M188.2 1194.05H197.4M188.2 1203.67H197.4" stroke="#000" stroke-width="1.6" fill="none"/>
<path d="M214.28 1185.12V1197.48M209.68 1185.12H218.88M209.68 1197.48H218.88" stroke="#000" stroke-width="1.6" fill="none"/>
<path d="M246.5 1176.74V1191.85M241.9 1176.74H251.1M241.9 1191.85H251.1" stroke="#000" stroke-width="1.6" fill="none"/>
<path d="M267.98 1165.54V1183.4M263.38 1165.54H272.58M263.38 1183.4H272.58" stroke="#000" stroke-width="1.6" fill="none"/>
<path d="M289.46 1143.97V1178.32M284.86 1143.97H294.06M284.86 1178.32H294.06" stroke="#000" stroke-width="1.6" fill="none"/>
<path d="M310.94 1131.12V1158.6M306.34 1131.12H315.54M306.34 1158.6H315.54" stroke="#000" stroke-width="1.6" fill="none"/>
<circle cx="96.14" cy="1217.27" r="3.65" fill="#fff" stroke="#000" stroke-width="1.5"/>
<circle cx="117.62" cy="1212.46" r="3.65" fill="#fff" stroke="#000" stroke-width="1.5"/>
<circle cx="139.1" cy="1206.28" r="3.65" fill="#fff" stroke="#000" stroke-width="1.5"/>
<circle cx="171.32" cy="1197.62" r="3.65" fill="#fff" stroke="#000" stroke-width="1.5"/>
<circle cx="192.8" cy="1185.8" r="3.65" fill="#fff" stroke="#000" stroke-width="1.5"/>
<circle cx="214.28" cy="1177.49" r="3.65" fill="#fff" stroke="#000" stroke-width="1.5"/>
<circle cx="246.5" cy="1156.95" r="3.65" fill="#fff" stroke="#000" stroke-width="1.5"/>
<circle cx="267.98" cy="1140.33" r="3.65" fill="#fff" stroke="#000" stroke-width="1.5"/>
<circle cx="289.46" cy="1114.22" r="3.65" fill="#fff" stroke="#000" stroke-width="1.5"/>
<circle cx="310.94" cy="1090.38" r="3.65" fill="#fff" stroke="#000" stroke-width="1.5"/>
<circle cx="96.14" cy="1217.27" r="4.55" fill="#000"/>
<circle cx="117.62" cy="1215.55" r="4.55" fill="#000"/>
<circle cx="139.1" cy="1210.61" r="4.55" fill="#000"/>
<circle cx="171.32" cy="1204.63" r="4.55" fill="#000"/>
<circle cx="192.8" cy="1198.86" r="4.55" fill="#000"/>
<circle cx="214.28" cy="1191.3" r="4.55" fill="#000"/>
<circle cx="246.5" cy="1184.29" r="4.55" fill="#000"/>
<circle cx="267.98" cy="1174.47" r="4.55" fill="#000"/>
<circle cx="289.46" cy="1161.14" r="4.55" fill="#000"/>
<circle cx="310.94" cy="1144.86" r="4.55" fill="#000"/>
<path d="M170.27 1216.35L170.77 1213.2L168.87 1213.2L169.37 1216.35ZM169.96 1216.78L173.11 1216.28L172.52 1214.47L169.68 1215.92ZM169.46 1216.61L170.9 1219.46L172.44 1218.34L170.18 1216.09ZM169.46 1216.09L167.2 1218.34L168.74 1219.46L170.18 1216.61ZM169.96 1215.92L167.12 1214.47L166.53 1216.28L169.68 1216.78Z" fill="#000"/>
<path d="M191.75 1209.85L192.25 1206.7L190.35 1206.7L190.85 1209.85ZM191.44 1210.28L194.59 1209.78L194 1207.97L191.16 1209.42ZM190.94 1210.11L192.38 1212.96L193.92 1211.84L191.66 1209.59ZM190.94 1209.59L188.68 1211.84L190.22 1212.96L191.66 1210.11ZM191.44 1209.42L188.6 1207.97L188.01 1209.78L191.16 1210.28Z" fill="#000"/>
<path d="M209.18 1205.35L209.68 1202.2L207.78 1202.2L208.28 1205.35ZM208.87 1205.78L212.02 1205.28L211.43 1203.47L208.59 1204.92ZM208.37 1205.61L209.81 1208.46L211.35 1207.34L209.09 1205.09ZM208.37 1205.09L206.11 1207.34L207.65 1208.46L209.09 1205.61ZM208.87 1204.92L206.03 1203.47L205.44 1205.28L208.59 1205.78ZM217.28 1205.35L217.78 1202.2L215.88 1202.2L216.38 1205.35ZM216.97 1205.78L220.12 1205.28L219.53 1203.47L216.69 1204.92ZM216.47 1205.61L217.91 1208.46L219.45 1207.34L217.19 1205.09ZM216.47 1205.09L214.21 1207.34L215.75 1208.46L217.19 1205.61ZM216.97 1204.92L214.13 1203.47L213.54 1205.28L216.69 1205.78Z" fill="#000"/>
<path d="M241.4 1201.6L241.9 1198.45L240 1198.45L240.5 1201.6ZM241.09 1202.03L244.24 1201.53L243.65 1199.72L240.81 1201.17ZM240.59 1201.86L242.03 1204.71L243.57 1203.59L241.31 1201.34ZM240.59 1201.34L238.33 1203.59L239.87 1204.71L241.31 1201.86ZM241.09 1201.17L238.25 1199.72L237.66 1201.53L240.81 1202.03ZM249.5 1201.6L250 1198.45L248.1 1198.45L248.6 1201.6ZM249.19 1202.03L252.34 1201.53L251.75 1199.72L248.91 1201.17ZM248.69 1201.86L250.13 1204.71L251.67 1203.59L249.41 1201.34ZM248.69 1201.34L246.43 1203.59L247.97 1204.71L249.41 1201.86ZM249.19 1201.17L246.35 1199.72L245.76 1201.53L248.91 1202.03Z" fill="#000"/>
<path d="M262.88 1194.1L263.38 1190.95L261.48 1190.95L261.98 1194.1ZM262.57 1194.53L265.72 1194.03L265.13 1192.22L262.29 1193.67ZM262.07 1194.36L263.51 1197.21L265.05 1196.09L262.79 1193.84ZM262.07 1193.84L259.81 1196.09L261.35 1197.21L262.79 1194.36ZM262.57 1193.67L259.73 1192.22L259.14 1194.03L262.29 1194.53ZM270.98 1194.1L271.48 1190.95L269.58 1190.95L270.08 1194.1ZM270.67 1194.53L273.82 1194.03L273.23 1192.22L270.39 1193.67ZM270.17 1194.36L271.61 1197.21L273.15 1196.09L270.89 1193.84ZM270.17 1193.84L267.91 1196.09L269.45 1197.21L270.89 1194.36ZM270.67 1193.67L267.83 1192.22L267.24 1194.03L270.39 1194.53Z" fill="#000"/>
<path d="M284.36 1187.35L284.86 1184.2L282.96 1184.2L283.46 1187.35ZM284.05 1187.78L287.2 1187.28L286.61 1185.47L283.77 1186.92ZM283.55 1187.61L284.99 1190.46L286.53 1189.34L284.27 1187.09ZM283.55 1187.09L281.29 1189.34L282.83 1190.46L284.27 1187.61ZM284.05 1186.92L281.21 1185.47L280.62 1187.28L283.77 1187.78ZM292.46 1187.35L292.96 1184.2L291.06 1184.2L291.56 1187.35ZM292.15 1187.78L295.3 1187.28L294.71 1185.47L291.87 1186.92ZM291.65 1187.61L293.09 1190.46L294.63 1189.34L292.37 1187.09ZM291.65 1187.09L289.39 1189.34L290.93 1190.46L292.37 1187.61ZM292.15 1186.92L289.31 1185.47L288.72 1187.28L291.87 1187.78Z" fill="#000"/>
<path d="M305.84 1167.35L306.34 1164.2L304.44 1164.2L304.94 1167.35ZM305.53 1167.78L308.68 1167.28L308.09 1165.47L305.25 1166.92ZM305.03 1167.61L306.47 1170.46L308.01 1169.34L305.75 1167.09ZM305.03 1167.09L302.77 1169.34L304.31 1170.46L305.75 1167.61ZM305.53 1166.92L302.69 1165.47L302.1 1167.28L305.25 1167.78ZM313.94 1167.35L314.44 1164.2L312.54 1164.2L313.04 1167.35ZM313.63 1167.78L316.78 1167.28L316.19 1165.47L313.35 1166.92ZM313.13 1167.61L314.57 1170.46L316.11 1169.34L313.85 1167.09ZM313.13 1167.09L310.87 1169.34L312.41 1170.46L313.85 1167.61ZM313.63 1166.92L310.79 1165.47L310.2 1167.28L313.35 1167.78Z" fill="#000"/>
<line x1="107.5" y1="1064.5" x2="147.5" y2="1064.5" stroke="#000" stroke-width="1.6"/>
<circle cx="127.5" cy="1064.5" r="2.74" fill="#fff" stroke="#000" stroke-width="1.5"/>
<text x="151.25" y="1068.85" font-size="12.6" text-anchor="start">pBABE_Veh</text>
<line x1="107.5" y1="1081.25" x2="147.5" y2="1081.25" stroke="#000" stroke-width="1.6"/>
<circle cx="127.5" cy="1081.25" r="3.41" fill="#000"/>
<text x="151.25" y="1085.6" font-size="12.6" text-anchor="start">pBABE_JWH-133</text>
<line x1="468" y1="1226" x2="468" y2="1052.6" stroke="#000" stroke-width="1.5"/>
<path d="M463 1226H468M463 1197.1H468M463 1168.2H468M463 1139.3H468M463 1110.4H468M463 1081.5H468M463 1052.6H468" stroke="#000" stroke-width="1.5"/>
<text x="455" y="1231.21" font-size="12.2" text-anchor="end">0</text>
<text x="455" y="1202.31" font-size="12.2" text-anchor="end">500</text>
<text x="455" y="1173.41" font-size="12.2" text-anchor="end">1000</text>
<text x="455" y="1144.51" font-size="12.2" text-anchor="end">1500</text>
<text x="455" y="1115.61" font-size="12.2" text-anchor="end">2000</text>
<text x="455" y="1086.71" font-size="12.2" text-anchor="end">2500</text>
<text x="455" y="1057.81" font-size="12.2" text-anchor="end">3000</text>
<line x1="462.8" y1="1226.3" x2="695.33" y2="1226.3" stroke="#000" stroke-width="1.5"/>
<path d="M467.9 1226.3V1231.3M543.71 1226.3V1231.3M619.52 1226.3V1231.3M695.33 1226.3V1231.3" stroke="#000" stroke-width="1.5"/>
<text x="467.6" y="1248.91" font-size="12.2" text-anchor="middle">0</text>
<text x="541.2" y="1248.91" font-size="12.2" text-anchor="middle">7</text>
<text x="618.8" y="1248.91" font-size="12.2" text-anchor="middle">14</text>
<text x="693.1" y="1248.91" font-size="12.2" text-anchor="middle">21</text>
<text x="414" y="1138.75" font-size="12.6" text-anchor="middle" transform="rotate(-90 414 1138.75)">Tumor volume (mm<tspan font-size="9" dy="-4.5">3</tspan><tspan dy="4.5">)</tspan></text>
<text x="573.2" y="1267.35" font-size="12.6" text-anchor="middle">Time (days)</text>
<polyline points="478.73,1217.91 500.39,1213.75 522.05,1205.02 554.54,1192.48 576.2,1182.53 597.86,1172.01 630.35,1154.21 652.01,1145.02 673.67,1119.99 695.33,1103.75" fill="none" stroke="#000" stroke-width="1.3" stroke-linejoin="round"/>
<polyline points="478.73,1217.91 500.39,1215.48 522.05,1208.78 554.54,1199.24 576.2,1185.02 597.86,1165.77 630.35,1146.24 652.01,1129.47 673.67,1102.48 695.33,1086.76" fill="none" stroke="#000" stroke-width="1.3" stroke-linejoin="round"/>
<path d="M478.73 1216.17V1219.64M474.13 1216.17H483.33M474.13 1219.64H483.33" stroke="#000" stroke-width="1.6" fill="none"/>
<path d="M500.39 1211.43V1216.06M495.79 1211.43H504.99M495.79 1216.06H504.99" stroke="#000" stroke-width="1.6" fill="none"/>
<path d="M522.05 1201.55V1208.49M517.45 1201.55H526.65M517.45 1208.49H526.65" stroke="#000" stroke-width="1.6" fill="none"/>
<path d="M554.54 1184.96V1199.99M549.94 1184.96H559.14M549.94 1199.99H559.14" stroke="#000" stroke-width="1.6" fill="none"/>
<path d="M576.2 1172.71V1192.36M571.6 1172.71H580.8M571.6 1192.36H580.8" stroke="#000" stroke-width="1.6" fill="none"/>
<path d="M597.86 1164.04V1179.99M593.26 1164.04H602.46M593.26 1179.99H602.46" stroke="#000" stroke-width="1.6" fill="none"/>
<path d="M630.35 1142.19V1166.23M625.75 1142.19H634.95M625.75 1166.23H634.95" stroke="#000" stroke-width="1.6" fill="none"/>
<path d="M652.01 1131.27V1158.78M647.41 1131.27H656.61M647.41 1158.78H656.61" stroke="#000" stroke-width="1.6" fill="none"/>
<path d="M673.67 1106.24V1133.75M669.07 1106.24H678.27M669.07 1133.75H678.27" stroke="#000" stroke-width="1.6" fill="none"/>
<path d="M695.33 1090V1117.51M690.73 1090H699.93M690.73 1117.51H699.93" stroke="#000" stroke-width="1.6" fill="none"/>
<path d="M478.73 1216.17V1219.64M474.13 1216.17H483.33M474.13 1219.64H483.33" stroke="#000" stroke-width="1.6" fill="none"/>
<path d="M500.39 1213.17V1217.79M495.79 1213.17H504.99M495.79 1217.79H504.99" stroke="#000" stroke-width="1.6" fill="none"/>
<path d="M522.05 1205.31V1212.24M517.45 1205.31H526.65M517.45 1212.24H526.65" stroke="#000" stroke-width="1.6" fill="none"/>
<path d="M554.54 1193.46V1205.02M549.94 1193.46H559.14M549.94 1205.02H559.14" stroke="#000" stroke-width="1.6" fill="none"/>
<path d="M576.2 1175.19V1194.85M571.6 1175.19H580.8M571.6 1194.85H580.8" stroke="#000" stroke-width="1.6" fill="none"/>
<path d="M597.86 1157.51V1174.04M593.26 1157.51H602.46M593.26 1174.04H602.46" stroke="#000" stroke-width="1.6" fill="none"/>
<path d="M630.35 1128.9V1163.58M625.75 1128.9H634.95M625.75 1163.58H634.95" stroke="#000" stroke-width="1.6" fill="none"/>
<path d="M652.01 1110V1148.95M647.41 1110H656.61M647.41 1148.95H656.61" stroke="#000" stroke-width="1.6" fill="none"/>
<path d="M673.67 1069.25V1135.72M669.07 1069.25H678.27M669.07 1135.72H678.27" stroke="#000" stroke-width="1.6" fill="none"/>
<path d="M695.33 1055.72V1117.8M690.73 1055.72H699.93M690.73 1117.8H699.93" stroke="#000" stroke-width="1.6" fill="none"/>
<rect x="474.93" y="1214.11" width="7.6" height="7.6" fill="#fff" stroke="#000" stroke-width="1.5"/>
<rect x="496.59" y="1209.95" width="7.6" height="7.6" fill="#fff" stroke="#000" stroke-width="1.5"/>
<rect x="518.25" y="1201.22" width="7.6" height="7.6" fill="#fff" stroke="#000" stroke-width="1.5"/>
<rect x="550.74" y="1188.68" width="7.6" height="7.6" fill="#fff" stroke="#000" stroke-width="1.5"/>
<rect x="572.4" y="1178.73" width="7.6" height="7.6" fill="#fff" stroke="#000" stroke-width="1.5"/>
<rect x="594.06" y="1168.21" width="7.6" height="7.6" fill="#fff" stroke="#000" stroke-width="1.5"/>
<rect x="626.55" y="1150.41" width="7.6" height="7.6" fill="#fff" stroke="#000" stroke-width="1.5"/>
<rect x="648.21" y="1141.22" width="7.6" height="7.6" fill="#fff" stroke="#000" stroke-width="1.5"/>
<rect x="669.87" y="1116.19" width="7.6" height="7.6" fill="#fff" stroke="#000" stroke-width="1.5"/>
<rect x="691.53" y="1099.95" width="7.6" height="7.6" fill="#fff" stroke="#000" stroke-width="1.5"/>
<rect x="474.13" y="1213.31" width="9.2" height="9.2" fill="#000"/>
<rect x="495.79" y="1210.88" width="9.2" height="9.2" fill="#000"/>
<rect x="517.45" y="1204.18" width="9.2" height="9.2" fill="#000"/>
<rect x="549.94" y="1194.64" width="9.2" height="9.2" fill="#000"/>
<rect x="571.6" y="1180.42" width="9.2" height="9.2" fill="#000"/>
<rect x="593.26" y="1161.17" width="9.2" height="9.2" fill="#000"/>
<rect x="625.75" y="1141.64" width="9.2" height="9.2" fill="#000"/>
<rect x="647.41" y="1124.87" width="9.2" height="9.2" fill="#000"/>
<rect x="669.07" y="1097.88" width="9.2" height="9.2" fill="#000"/>
<rect x="690.73" y="1082.16" width="9.2" height="9.2" fill="#000"/>
<line x1="479.5" y1="1061.25" x2="519.5" y2="1061.25" stroke="#000" stroke-width="1.6"/>
<rect x="496.76" y="1058.51" width="5.47" height="5.47" fill="#fff" stroke="#000" stroke-width="1.5"/>
<text x="523.75" y="1065.49" font-size="12.3" text-anchor="start">pBABE-myr-Akt_Veh</text>
<line x1="479.5" y1="1079.5" x2="519.5" y2="1079.5" stroke="#000" stroke-width="1.6"/>
<rect x="496.19" y="1076.19" width="6.62" height="6.62" fill="#000"/>
<text x="523.75" y="1083.74" font-size="12.3" text-anchor="start">pBABE-myr-Akt_JWH-133</text>
</svg>
</body></html>
